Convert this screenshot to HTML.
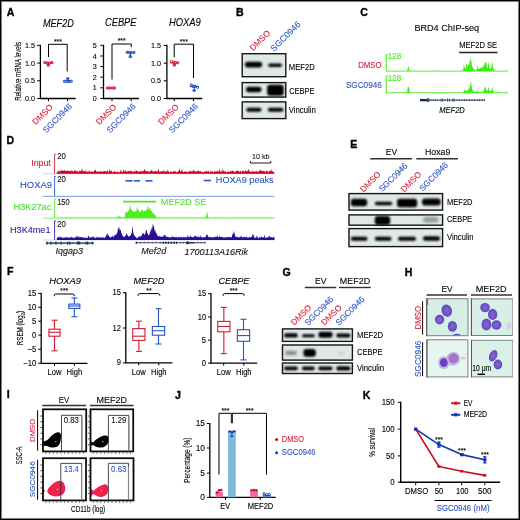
<!DOCTYPE html>
<html><head><meta charset="utf-8"><style>
html,body{margin:0;padding:0;background:#fff;}
svg{display:block;font-family:"Liberation Sans", sans-serif;}
</style></head><body>
<svg width="520" height="520" viewBox="0 0 520 520">
<rect x="0" y="0" width="520" height="520" fill="#fff"/>
<defs><filter id="soft" x="0" y="0" width="100%" height="100%"><feGaussianBlur stdDeviation="0.3"/></filter></defs>
<g filter="url(#soft)">
<text x="6.7" y="16.0" font-size="10.6" font-weight="bold" fill="#000" stroke="#000" stroke-width="0.35">A</text>
<text x="235.89999999999998" y="16.0" font-size="10.6" font-weight="bold" fill="#000" stroke="#000" stroke-width="0.35">B</text>
<text x="360.3" y="16.4" font-size="10.6" font-weight="bold" fill="#000" stroke="#000" stroke-width="0.35">C</text>
<text x="6.6000000000000005" y="143.7" font-size="10.6" font-weight="bold" fill="#000" stroke="#000" stroke-width="0.35">D</text>
<text x="350.3" y="147.89999999999998" font-size="10.6" font-weight="bold" fill="#000" stroke="#000" stroke-width="0.35">E</text>
<text x="7.0" y="275.4" font-size="10.6" font-weight="bold" fill="#000" stroke="#000" stroke-width="0.35">F</text>
<text x="282.4" y="275.59999999999997" font-size="10.6" font-weight="bold" fill="#000" stroke="#000" stroke-width="0.35">G</text>
<text x="404.7" y="275.9" font-size="10.6" font-weight="bold" fill="#000" stroke="#000" stroke-width="0.35">H</text>
<text x="6.7" y="398.2" font-size="10.6" font-weight="bold" fill="#000" stroke="#000" stroke-width="0.35">I</text>
<text x="174.89999999999998" y="398.7" font-size="10.6" font-weight="bold" fill="#000" stroke="#000" stroke-width="0.35">J</text>
<text x="362.8" y="399.0" font-size="10.6" font-weight="bold" fill="#000" stroke="#000" stroke-width="0.35">K</text>
<line x1="40.4" y1="44.8" x2="40.4" y2="99.0" stroke="#000" stroke-width="1.3"/>
<line x1="39.9" y1="98.5" x2="75.7" y2="98.5" stroke="#000" stroke-width="1.3"/>
<line x1="37.199999999999996" y1="45.4" x2="40.4" y2="45.4" stroke="#000" stroke-width="1"/>
<text x="35.1" y="48.0" transform="translate(35.1,48.0) scale(1,1.12) translate(-35.1,-48.0)" font-size="7.2" fill="#000" stroke="#000" stroke-width="0.1" text-anchor="end" font-weight="normal" font-style="normal" >1.5</text>
<line x1="37.199999999999996" y1="63.1" x2="40.4" y2="63.1" stroke="#000" stroke-width="1"/>
<text x="35.1" y="65.7" transform="translate(35.1,65.7) scale(1,1.12) translate(-35.1,-65.7)" font-size="7.2" fill="#000" stroke="#000" stroke-width="0.1" text-anchor="end" font-weight="normal" font-style="normal" >1.0</text>
<line x1="37.199999999999996" y1="80.8" x2="40.4" y2="80.8" stroke="#000" stroke-width="1"/>
<text x="35.1" y="83.39999999999999" transform="translate(35.1,83.39999999999999) scale(1,1.12) translate(-35.1,-83.39999999999999)" font-size="7.2" fill="#000" stroke="#000" stroke-width="0.1" text-anchor="end" font-weight="normal" font-style="normal" >0.5</text>
<line x1="37.199999999999996" y1="98.5" x2="40.4" y2="98.5" stroke="#000" stroke-width="1"/>
<text x="35.1" y="101.1" transform="translate(35.1,101.1) scale(1,1.12) translate(-35.1,-101.1)" font-size="7.2" fill="#000" stroke="#000" stroke-width="0.1" text-anchor="end" font-weight="normal" font-style="normal" >0.0</text>
<line x1="48.5" y1="98.5" x2="48.5" y2="101.3" stroke="#000" stroke-width="1"/>
<line x1="67.5" y1="98.5" x2="67.5" y2="101.3" stroke="#000" stroke-width="1"/>
<text x="43" y="27" transform="translate(43,27) scale(1,1.12) translate(-43,-27)" font-size="9.0" fill="#000" stroke="#000" stroke-width="0.1" text-anchor="start" font-weight="normal" font-style="italic" textLength="30.8" lengthAdjust="spacingAndGlyphs" >MEF2D</text>
<path d="M48.5,57 V44.3 H67.2 V71.5" stroke="#000" stroke-width="1" fill="none" />
<text x="57.85" y="43.699999999999996" transform="translate(57.85,43.699999999999996) scale(1,1.12) translate(-57.85,-43.699999999999996)" font-size="6.8" fill="#000" stroke="#000" stroke-width="0.1" text-anchor="middle" font-weight="normal" font-style="normal" >***</text>
<line x1="44.3" y1="62.8" x2="52.7" y2="62.8" stroke="#d0021b" stroke-width="1.1"/>
<line x1="48.5" y1="62.8" x2="48.5" y2="65.2" stroke="#d0021b" stroke-width="1.0"/>
<line x1="46.9" y1="65.2" x2="50.1" y2="65.2" stroke="#d0021b" stroke-width="1.0"/>
<circle cx="44.7" cy="62.4" r="1.15" fill="#fff" fill-opacity="0.35" stroke="#d0021b" stroke-width="0.95"/>
<circle cx="47.1" cy="63.0" r="1.15" fill="#fff" fill-opacity="0.35" stroke="#d0021b" stroke-width="0.95"/>
<circle cx="49.5" cy="63.0" r="1.15" fill="#fff" fill-opacity="0.35" stroke="#d0021b" stroke-width="0.95"/>
<circle cx="52.0" cy="62.599999999999994" r="1.15" fill="#fff" fill-opacity="0.35" stroke="#d0021b" stroke-width="0.95"/>
<circle cx="48.3" cy="65.2" r="1.15" fill="#fff" fill-opacity="0.35" stroke="#d0021b" stroke-width="0.95"/>
<line x1="63.599999999999994" y1="81.0" x2="72.0" y2="81.0" stroke="#0b3fb8" stroke-width="1.1"/>
<line x1="67.8" y1="81.0" x2="67.8" y2="78.6" stroke="#0b3fb8" stroke-width="1.0"/>
<line x1="66.2" y1="78.6" x2="69.39999999999999" y2="78.6" stroke="#0b3fb8" stroke-width="1.0"/>
<circle cx="64.39999999999999" cy="81.4" r="1.15" fill="#fff" fill-opacity="0.35" stroke="#0b3fb8" stroke-width="0.95"/>
<circle cx="66.6" cy="81.6" r="1.15" fill="#fff" fill-opacity="0.35" stroke="#0b3fb8" stroke-width="0.95"/>
<circle cx="69.0" cy="81.6" r="1.15" fill="#fff" fill-opacity="0.35" stroke="#0b3fb8" stroke-width="0.95"/>
<circle cx="71.3" cy="81.3" r="1.15" fill="#fff" fill-opacity="0.35" stroke="#0b3fb8" stroke-width="0.95"/>
<circle cx="67.7" cy="78.6" r="1.15" fill="#fff" fill-opacity="0.35" stroke="#0b3fb8" stroke-width="0.95"/>
<text transform="translate(53.45,107.6) rotate(-45)" font-size="8.4" fill="#d41f36" stroke="#d41f36" stroke-width="0.1" text-anchor="end" font-style="normal">DMSO</text>
<text transform="translate(72.6,107.0) rotate(-45)" font-size="8.5" fill="#2d55c4" stroke="#2d55c4" stroke-width="0.1" text-anchor="end" font-style="normal">SGC0946</text>
<line x1="103.5" y1="44.8" x2="103.5" y2="99.0" stroke="#000" stroke-width="1.3"/>
<line x1="103.0" y1="98.5" x2="139" y2="98.5" stroke="#000" stroke-width="1.3"/>
<line x1="100.3" y1="45.3" x2="103.5" y2="45.3" stroke="#000" stroke-width="1"/>
<text x="96.7" y="47.9" transform="translate(96.7,47.9) scale(1,1.12) translate(-96.7,-47.9)" font-size="7.2" fill="#000" stroke="#000" stroke-width="0.1" text-anchor="end" font-weight="normal" font-style="normal" >5</text>
<line x1="100.3" y1="56" x2="103.5" y2="56" stroke="#000" stroke-width="1"/>
<text x="96.7" y="58.6" transform="translate(96.7,58.6) scale(1,1.12) translate(-96.7,-58.6)" font-size="7.2" fill="#000" stroke="#000" stroke-width="0.1" text-anchor="end" font-weight="normal" font-style="normal" >4</text>
<line x1="100.3" y1="66.6" x2="103.5" y2="66.6" stroke="#000" stroke-width="1"/>
<text x="96.7" y="69.19999999999999" transform="translate(96.7,69.19999999999999) scale(1,1.12) translate(-96.7,-69.19999999999999)" font-size="7.2" fill="#000" stroke="#000" stroke-width="0.1" text-anchor="end" font-weight="normal" font-style="normal" >3</text>
<line x1="100.3" y1="77.2" x2="103.5" y2="77.2" stroke="#000" stroke-width="1"/>
<text x="96.7" y="79.8" transform="translate(96.7,79.8) scale(1,1.12) translate(-96.7,-79.8)" font-size="7.2" fill="#000" stroke="#000" stroke-width="0.1" text-anchor="end" font-weight="normal" font-style="normal" >2</text>
<line x1="100.3" y1="87.8" x2="103.5" y2="87.8" stroke="#000" stroke-width="1"/>
<text x="96.7" y="90.39999999999999" transform="translate(96.7,90.39999999999999) scale(1,1.12) translate(-96.7,-90.39999999999999)" font-size="7.2" fill="#000" stroke="#000" stroke-width="0.1" text-anchor="end" font-weight="normal" font-style="normal" >1</text>
<line x1="100.3" y1="98.5" x2="103.5" y2="98.5" stroke="#000" stroke-width="1"/>
<text x="96.7" y="101.1" transform="translate(96.7,101.1) scale(1,1.12) translate(-96.7,-101.1)" font-size="7.2" fill="#000" stroke="#000" stroke-width="0.1" text-anchor="end" font-weight="normal" font-style="normal" >0</text>
<line x1="112" y1="98.5" x2="112" y2="101.3" stroke="#000" stroke-width="1"/>
<line x1="131.2" y1="98.5" x2="131.2" y2="101.3" stroke="#000" stroke-width="1"/>
<text x="105" y="26.5" transform="translate(105,26.5) scale(1,1.12) translate(-105,-26.5)" font-size="9.0" fill="#000" stroke="#000" stroke-width="0.1" text-anchor="start" font-weight="normal" font-style="italic" textLength="31.5" lengthAdjust="spacingAndGlyphs" >CEBPE</text>
<path d="M112,79.6 V44.0 H131.2 V47.3" stroke="#000" stroke-width="1" fill="none" />
<text x="121.6" y="43.4" transform="translate(121.6,43.4) scale(1,1.12) translate(-121.6,-43.4)" font-size="6.8" fill="#000" stroke="#000" stroke-width="0.1" text-anchor="middle" font-weight="normal" font-style="normal" >***</text>
<line x1="106.8" y1="88.0" x2="115.2" y2="88.0" stroke="#d0021b" stroke-width="1.1"/>
<circle cx="107.5" cy="88.0" r="1.15" fill="#fff" fill-opacity="0.35" stroke="#d0021b" stroke-width="0.95"/>
<circle cx="110.0" cy="88.0" r="1.15" fill="#fff" fill-opacity="0.35" stroke="#d0021b" stroke-width="0.95"/>
<circle cx="112.7" cy="88.0" r="1.15" fill="#fff" fill-opacity="0.35" stroke="#d0021b" stroke-width="0.95"/>
<circle cx="114.5" cy="88.0" r="1.15" fill="#fff" fill-opacity="0.35" stroke="#d0021b" stroke-width="0.95"/>
<line x1="126.3" y1="52.5" x2="134.7" y2="52.5" stroke="#0b3fb8" stroke-width="1.1"/>
<line x1="130.5" y1="52.5" x2="130.5" y2="57.1" stroke="#0b3fb8" stroke-width="1.0"/>
<line x1="128.9" y1="57.1" x2="132.1" y2="57.1" stroke="#0b3fb8" stroke-width="1.0"/>
<circle cx="127.2" cy="52.3" r="1.15" fill="#fff" fill-opacity="0.35" stroke="#0b3fb8" stroke-width="0.95"/>
<circle cx="129.3" cy="52.5" r="1.15" fill="#fff" fill-opacity="0.35" stroke="#0b3fb8" stroke-width="0.95"/>
<circle cx="131.4" cy="52.5" r="1.15" fill="#fff" fill-opacity="0.35" stroke="#0b3fb8" stroke-width="0.95"/>
<circle cx="133.8" cy="52.5" r="1.15" fill="#fff" fill-opacity="0.35" stroke="#0b3fb8" stroke-width="0.95"/>
<circle cx="130.2" cy="56.5" r="1.15" fill="#fff" fill-opacity="0.35" stroke="#0b3fb8" stroke-width="0.95"/>
<text transform="translate(116.95,107.6) rotate(-45)" font-size="8.4" fill="#d41f36" stroke="#d41f36" stroke-width="0.1" text-anchor="end" font-style="normal">DMSO</text>
<text transform="translate(136.29999999999998,107.0) rotate(-45)" font-size="8.5" fill="#2d55c4" stroke="#2d55c4" stroke-width="0.1" text-anchor="end" font-style="normal">SGC0946</text>
<line x1="166.9" y1="44.8" x2="166.9" y2="99.0" stroke="#000" stroke-width="1.3"/>
<line x1="166.4" y1="98.5" x2="202.3" y2="98.5" stroke="#000" stroke-width="1.3"/>
<line x1="163.70000000000002" y1="45.5" x2="166.9" y2="45.5" stroke="#000" stroke-width="1"/>
<text x="160.9" y="48.1" transform="translate(160.9,48.1) scale(1,1.12) translate(-160.9,-48.1)" font-size="7.2" fill="#000" stroke="#000" stroke-width="0.1" text-anchor="end" font-weight="normal" font-style="normal" >1.5</text>
<line x1="163.70000000000002" y1="63.2" x2="166.9" y2="63.2" stroke="#000" stroke-width="1"/>
<text x="160.9" y="65.8" transform="translate(160.9,65.8) scale(1,1.12) translate(-160.9,-65.8)" font-size="7.2" fill="#000" stroke="#000" stroke-width="0.1" text-anchor="end" font-weight="normal" font-style="normal" >1.0</text>
<line x1="163.70000000000002" y1="80.8" x2="166.9" y2="80.8" stroke="#000" stroke-width="1"/>
<text x="160.9" y="83.39999999999999" transform="translate(160.9,83.39999999999999) scale(1,1.12) translate(-160.9,-83.39999999999999)" font-size="7.2" fill="#000" stroke="#000" stroke-width="0.1" text-anchor="end" font-weight="normal" font-style="normal" >0.5</text>
<line x1="163.70000000000002" y1="98.5" x2="166.9" y2="98.5" stroke="#000" stroke-width="1"/>
<text x="160.9" y="101.1" transform="translate(160.9,101.1) scale(1,1.12) translate(-160.9,-101.1)" font-size="7.2" fill="#000" stroke="#000" stroke-width="0.1" text-anchor="end" font-weight="normal" font-style="normal" >0.0</text>
<line x1="174.3" y1="98.5" x2="174.3" y2="101.3" stroke="#000" stroke-width="1"/>
<line x1="193.5" y1="98.5" x2="193.5" y2="101.3" stroke="#000" stroke-width="1"/>
<text x="168.9" y="26" transform="translate(168.9,26) scale(1,1.12) translate(-168.9,-26)" font-size="9.0" fill="#000" stroke="#000" stroke-width="0.1" text-anchor="start" font-weight="normal" font-style="italic" textLength="31.9" lengthAdjust="spacingAndGlyphs" >HOXA9</text>
<path d="M174.2,57.3 V44.2 H193.5 V78" stroke="#000" stroke-width="1" fill="none" />
<text x="183.85" y="43.6" transform="translate(183.85,43.6) scale(1,1.12) translate(-183.85,-43.6)" font-size="6.8" fill="#000" stroke="#000" stroke-width="0.1" text-anchor="middle" font-weight="normal" font-style="normal" >***</text>
<line x1="170.20000000000002" y1="62.8" x2="178.6" y2="62.8" stroke="#d0021b" stroke-width="1.1"/>
<line x1="174.4" y1="62.8" x2="174.4" y2="65.1" stroke="#d0021b" stroke-width="1.0"/>
<line x1="172.8" y1="65.1" x2="176.0" y2="65.1" stroke="#d0021b" stroke-width="1.0"/>
<circle cx="171.5" cy="61.5" r="1.15" fill="#fff" fill-opacity="0.35" stroke="#d0021b" stroke-width="0.95"/>
<circle cx="173.70000000000002" cy="62.599999999999994" r="1.15" fill="#fff" fill-opacity="0.35" stroke="#d0021b" stroke-width="0.95"/>
<circle cx="175.5" cy="62.599999999999994" r="1.15" fill="#fff" fill-opacity="0.35" stroke="#d0021b" stroke-width="0.95"/>
<circle cx="177.70000000000002" cy="62.9" r="1.15" fill="#fff" fill-opacity="0.35" stroke="#d0021b" stroke-width="0.95"/>
<circle cx="174.4" cy="65.1" r="1.15" fill="#fff" fill-opacity="0.35" stroke="#d0021b" stroke-width="0.95"/>
<line x1="190.10000000000002" y1="86.6" x2="198.5" y2="86.6" stroke="#0b3fb8" stroke-width="1.1"/>
<line x1="194.3" y1="86.6" x2="194.3" y2="90.69999999999999" stroke="#0b3fb8" stroke-width="1.0"/>
<line x1="192.70000000000002" y1="90.69999999999999" x2="195.9" y2="90.69999999999999" stroke="#0b3fb8" stroke-width="1.0"/>
<circle cx="191.20000000000002" cy="85.19999999999999" r="1.15" fill="#fff" fill-opacity="0.35" stroke="#0b3fb8" stroke-width="0.95"/>
<circle cx="193.0" cy="86.3" r="1.15" fill="#fff" fill-opacity="0.35" stroke="#0b3fb8" stroke-width="0.95"/>
<circle cx="195.0" cy="86.3" r="1.15" fill="#fff" fill-opacity="0.35" stroke="#0b3fb8" stroke-width="0.95"/>
<circle cx="197.5" cy="87.3" r="1.15" fill="#fff" fill-opacity="0.35" stroke="#0b3fb8" stroke-width="0.95"/>
<circle cx="194.10000000000002" cy="90.39999999999999" r="1.15" fill="#fff" fill-opacity="0.35" stroke="#0b3fb8" stroke-width="0.95"/>
<text transform="translate(179.25,107.6) rotate(-45)" font-size="8.4" fill="#d41f36" stroke="#d41f36" stroke-width="0.1" text-anchor="end" font-style="normal">DMSO</text>
<text transform="translate(198.6,107.0) rotate(-45)" font-size="8.5" fill="#2d55c4" stroke="#2d55c4" stroke-width="0.1" text-anchor="end" font-style="normal">SGC0946</text>
<text transform="translate(20.6,71.3) rotate(-90)" font-size="9.2" text-anchor="middle" stroke="#000" stroke-width="0.12" textLength="58.8" lengthAdjust="spacingAndGlyphs">Relative mRNA levels</text>
<defs>
<filter id="bl" x="-20%" y="-50%" width="140%" height="200%"><feGaussianBlur stdDeviation="0.9"/></filter>
<filter id="bl2" x="-20%" y="-50%" width="140%" height="200%"><feGaussianBlur stdDeviation="1.4"/></filter>
<filter id="bl3" x="-30%" y="-30%" width="160%" height="160%"><feGaussianBlur stdDeviation="0.6"/></filter>
<radialGradient id="cellg" cx="0.5" cy="0.5" r="0.5"><stop offset="0" stop-color="#9462c4"/><stop offset="0.55" stop-color="#7a56c2"/><stop offset="0.85" stop-color="#5a4ec6"/><stop offset="1" stop-color="#5660cc"/></radialGradient>
<radialGradient id="cellp" cx="0.5" cy="0.5" r="0.5"><stop offset="0" stop-color="#b272c8"/><stop offset="0.8" stop-color="#a872c8"/><stop offset="1" stop-color="#9a88d4"/></radialGradient>
<radialGradient id="celld" cx="0.5" cy="0.5" r="0.5"><stop offset="0" stop-color="#7a3cbc"/><stop offset="0.8" stop-color="#6a3cb8"/><stop offset="1" stop-color="#7a6ad0"/></radialGradient>
</defs>
<text transform="translate(270.75,33.6) rotate(-45)" font-size="8.4" fill="#d41f36" stroke="#d41f36" stroke-width="0.1" text-anchor="end" font-style="normal">DMSO</text>
<text transform="translate(301.1,24.9) rotate(-45)" font-size="8.7" fill="#2d55c4" stroke="#2d55c4" stroke-width="0.1" text-anchor="end" font-style="normal">SGC0946</text>
<rect x="242.2" y="53.7" width="43.6" height="23.000000000000007" fill="#dfe8e6" stroke="#141414" stroke-width="1.4" />
<rect x="244.9" y="61.8" width="17.299999999999983" height="5.6" rx="2.8" fill="#000" filter="url(#bl)"/>
<rect x="268.2" y="63.400000000000006" width="13.800000000000011" height="3.6" rx="1.8" fill="#000" filter="url(#bl)"/>
<rect x="242.2" y="82.60000000000001" width="43.6" height="14.499999999999991" fill="#dfe8e6" stroke="#141414" stroke-width="1.4" />
<rect x="246.0" y="86.7" width="15.5" height="5.6" rx="2.8" fill="#000" filter="url(#bl)"/>
<rect x="267.1" y="84.7" width="16.599999999999966" height="11.0" rx="3" fill="#000" filter="url(#bl)"/>
<rect x="242.2" y="101.9" width="43.6" height="16.699999999999996" fill="#dfe8e6" stroke="#141414" stroke-width="1.4" />
<rect x="246.3" y="107.85" width="15.199999999999989" height="3.9" rx="1.95" fill="#000" filter="url(#bl)"/>
<rect x="267.8" y="107.8" width="15.599999999999966" height="4.0" rx="2.0" fill="#000" filter="url(#bl)"/>
<text x="288.8" y="69.6" transform="translate(288.8,69.6) scale(1,1.12) translate(-288.8,-69.6)" font-size="7.6" fill="#000" stroke="#000" stroke-width="0.1" text-anchor="start" font-weight="normal" font-style="normal" textLength="26" lengthAdjust="spacingAndGlyphs" >MEF2D</text>
<text x="289.2" y="93.8" transform="translate(289.2,93.8) scale(1,1.12) translate(-289.2,-93.8)" font-size="7.6" fill="#000" stroke="#000" stroke-width="0.1" text-anchor="start" font-weight="normal" font-style="normal" textLength="25.4" lengthAdjust="spacingAndGlyphs" >CEBPE</text>
<text x="288.8" y="113.5" transform="translate(288.8,113.5) scale(1,1.12) translate(-288.8,-113.5)" font-size="7.6" fill="#000" stroke="#000" stroke-width="0.1" text-anchor="start" font-weight="normal" font-style="normal" textLength="27" lengthAdjust="spacingAndGlyphs" >Vinculin</text>
<text x="414.4" y="30.6" transform="translate(414.4,30.6) scale(1,1.12) translate(-414.4,-30.6)" font-size="8.8" fill="#000" stroke="#000" stroke-width="0.1" text-anchor="start" font-weight="normal" font-style="normal" textLength="64.8" lengthAdjust="spacingAndGlyphs" >BRD4 ChIP-seq</text>
<text x="459.2" y="48.5" transform="translate(459.2,48.5) scale(1,1.12) translate(-459.2,-48.5)" font-size="7.6" fill="#000" stroke="#000" stroke-width="0.1" text-anchor="start" font-weight="normal" font-style="normal" textLength="37.9" lengthAdjust="spacingAndGlyphs" >MEF2D SE</text>
<line x1="459.2" y1="52.5" x2="497.5" y2="52.5" stroke="#222" stroke-width="1.3"/>
<text x="358.2" y="67.9" transform="translate(358.2,67.9) scale(1,1.12) translate(-358.2,-67.9)" font-size="8.6" fill="#d41f36" stroke="#d41f36" stroke-width="0.1" text-anchor="start" font-weight="normal" font-style="normal" textLength="23.3" lengthAdjust="spacingAndGlyphs" >DMSO</text>
<text x="345.9" y="88.3" transform="translate(345.9,88.3) scale(1,1.12) translate(-345.9,-88.3)" font-size="8.4" fill="#2d55c4" stroke="#2d55c4" stroke-width="0.1" text-anchor="start" font-weight="normal" font-style="normal" textLength="35.9" lengthAdjust="spacingAndGlyphs" >SGC0946</text>
<line x1="386.3" y1="54.0" x2="386.3" y2="71.6" stroke="#3fee14" stroke-width="1"/>
<line x1="386.3" y1="54.4" x2="387.8" y2="54.4" stroke="#3fee14" stroke-width="0.8"/>
<text x="387.8" y="58.9" transform="translate(387.8,58.9) scale(1,1.12) translate(-387.8,-58.9)" font-size="7.8" fill="#3fee14" stroke="#3fee14" stroke-width="0.1" text-anchor="start" font-weight="normal" font-style="normal" textLength="13.5" lengthAdjust="spacingAndGlyphs" >128</text>
<line x1="386.3" y1="75.8" x2="386.3" y2="93.3" stroke="#3fee14" stroke-width="1"/>
<line x1="386.3" y1="76.2" x2="387.8" y2="76.2" stroke="#3fee14" stroke-width="0.8"/>
<text x="387.8" y="80.7" transform="translate(387.8,80.7) scale(1,1.12) translate(-387.8,-80.7)" font-size="7.8" fill="#3fee14" stroke="#3fee14" stroke-width="0.1" text-anchor="start" font-weight="normal" font-style="normal" textLength="13.5" lengthAdjust="spacingAndGlyphs" >128</text>
<path d="M386.8,71.6 L386.80,70.67 L387.15,70.44 L387.50,70.65 L387.85,70.81 L388.20,70.59 L388.55,70.85 L388.90,70.85 L389.25,70.55 L389.60,70.41 L389.95,70.57 L390.30,70.50 L390.65,70.87 L391.00,70.78 L391.35,70.67 L391.70,70.48 L392.05,70.58 L392.40,70.57 L392.75,70.76 L393.10,70.40 L393.45,70.55 L393.80,70.79 L394.15,70.86 L394.50,70.70 L394.85,70.71 L395.20,70.35 L395.55,70.44 L395.90,70.41 L396.25,70.86 L396.60,70.51 L396.95,70.86 L397.30,70.42 L397.65,70.84 L398.00,70.85 L398.35,70.50 L398.70,70.62 L399.05,70.80 L399.40,70.83 L399.75,70.84 L400.10,70.79 L400.45,70.41 L400.80,70.75 L401.15,70.79 L401.50,70.47 L401.85,70.85 L402.20,70.79 L402.55,70.51 L402.90,70.75 L403.25,70.85 L403.60,70.78 L403.95,70.71 L404.30,70.42 L404.65,70.61 L405.00,70.81 L405.35,70.45 L405.70,70.78 L406.05,70.53 L406.40,70.80 L406.75,70.46 L407.10,70.69 L407.45,69.44 L407.80,68.18 L408.15,66.52 L408.50,66.12 L408.85,67.92 L409.20,69.46 L409.55,70.38 L409.90,70.81 L410.25,70.83 L410.60,70.45 L410.95,70.57 L411.30,70.61 L411.65,70.34 L412.00,70.55 L412.35,70.89 L412.70,70.66 L413.05,70.74 L413.40,70.86 L413.75,70.53 L414.10,70.53 L414.45,70.50 L414.80,70.72 L415.15,70.45 L415.50,70.69 L415.85,70.47 L416.20,70.59 L416.55,70.61 L416.90,70.86 L417.25,70.40 L417.60,70.54 L417.95,70.53 L418.30,70.68 L418.65,70.86 L419.00,70.89 L419.35,70.66 L419.70,70.55 L420.05,70.59 L420.40,70.59 L420.75,70.56 L421.10,70.82 L421.45,70.57 L421.80,70.45 L422.15,70.57 L422.50,70.68 L422.85,70.44 L423.20,70.71 L423.55,70.74 L423.90,70.65 L424.25,70.48 L424.60,70.42 L424.95,70.82 L425.30,70.76 L425.65,70.69 L426.00,70.65 L426.35,70.48 L426.70,70.67 L427.05,70.88 L427.40,70.88 L427.75,70.61 L428.10,70.42 L428.45,70.17 L428.80,70.78 L429.15,70.88 L429.50,70.68 L429.85,70.57 L430.20,70.42 L430.55,70.80 L430.90,70.53 L431.25,70.54 L431.60,70.76 L431.95,70.55 L432.30,70.59 L432.65,70.70 L433.00,70.45 L433.35,70.43 L433.70,70.84 L434.05,70.59 L434.40,70.71 L434.75,70.46 L435.10,70.43 L435.45,70.57 L435.80,70.54 L436.15,70.58 L436.50,70.79 L436.85,70.41 L437.20,70.63 L437.55,70.74 L437.90,70.47 L438.25,70.86 L438.60,70.62 L438.95,70.17 L439.30,70.87 L439.65,70.81 L440.00,70.51 L440.35,70.83 L440.70,70.54 L441.05,70.56 L441.40,70.65 L441.75,70.86 L442.10,70.64 L442.45,70.54 L442.80,70.64 L443.15,70.62 L443.50,70.71 L443.85,70.45 L444.20,70.47 L444.55,70.64 L444.90,70.80 L445.25,70.65 L445.60,70.89 L445.95,70.64 L446.30,70.50 L446.65,70.65 L447.00,70.87 L447.35,70.69 L447.70,70.44 L448.05,70.66 L448.40,70.68 L448.75,70.45 L449.10,70.74 L449.45,70.44 L449.80,70.50 L450.15,70.56 L450.50,70.59 L450.85,70.84 L451.20,70.80 L451.55,70.71 L451.90,70.82 L452.25,70.58 L452.60,70.59 L452.95,70.53 L453.30,70.74 L453.65,70.79 L454.00,70.83 L454.35,70.77 L454.70,70.69 L455.05,70.70 L455.40,70.80 L455.75,70.42 L456.10,70.52 L456.45,70.81 L456.80,70.88 L457.15,70.62 L457.50,70.80 L457.85,70.44 L458.20,70.42 L458.55,70.74 L458.90,70.68 L459.25,70.55 L459.60,70.67 L459.95,70.71 L460.30,70.59 L460.65,70.55 L461.00,70.61 L461.35,70.41 L461.70,70.44 L462.05,70.38 L462.40,70.39 L462.75,70.37 L463.10,70.42 L463.45,67.66 L463.80,63.21 L464.15,65.40 L464.50,67.32 L464.85,67.62 L465.20,68.69 L465.55,68.10 L465.90,66.95 L466.25,65.45 L466.60,64.11 L466.95,64.34 L467.30,66.64 L467.65,66.14 L468.00,64.98 L468.35,64.55 L468.70,64.81 L469.05,64.20 L469.40,62.73 L469.75,61.74 L470.10,60.64 L470.45,56.95 L470.80,58.74 L471.15,60.67 L471.50,62.01 L471.85,64.88 L472.20,66.59 L472.55,67.02 L472.90,67.81 L473.25,68.34 L473.60,68.75 L473.95,69.12 L474.30,69.45 L474.65,69.64 L475.00,69.88 L475.35,70.41 L475.70,70.22 L476.05,69.96 L476.40,69.66 L476.75,69.27 L477.10,66.91 L477.45,66.18 L477.80,67.54 L478.15,68.73 L478.50,68.80 L478.85,69.08 L479.20,68.65 L479.55,68.82 L479.90,68.59 L480.25,68.36 L480.60,67.43 L480.95,68.09 L481.30,67.89 L481.65,66.96 L482.00,67.63 L482.35,67.49 L482.70,66.47 L483.05,66.81 L483.40,67.04 L483.75,65.18 L484.10,65.32 L484.45,64.76 L484.80,61.68 L485.15,62.34 L485.50,62.61 L485.85,61.85 L486.20,62.84 L486.55,64.00 L486.90,66.50 L487.25,68.20 L487.60,67.69 L487.95,67.35 L488.30,63.55 L488.65,60.33 L489.00,65.19 L489.35,67.07 L489.70,68.82 L490.05,69.00 L490.40,68.56 L490.75,68.63 L491.10,68.34 L491.45,67.17 L491.80,65.06 L492.15,62.48 L492.50,61.97 L492.85,65.25 L493.20,67.96 L493.55,69.15 L493.90,69.89 L494.25,69.81 L494.60,70.50 L494.95,70.76 L495.30,70.60 L495.65,70.76 L496.00,70.52 L496.35,70.63 L496.70,70.66 L497.05,70.46 L497.40,70.73 L497.75,70.42 L498.10,70.79 L498.45,70.43 L498.80,70.71 L499.15,70.64 L499.50,70.40 L499.85,70.50 L500.20,70.71 L500.55,70.54 L500.90,70.82 L501.25,70.74 L501.60,70.47 L501.95,70.58 L502.30,70.77 L502.65,70.82 L503.00,70.90 L503.35,70.48 L503.70,70.86 L504.05,70.54 L504.40,70.66 L504.75,70.42 L505.10,70.47 L505.45,70.51 L505.80,70.44 L506.15,70.49 L506.50,70.63 L506.85,70.82 L507.20,70.74 L507.55,70.86 L507.90,70.67 L508,71.6 Z" fill="#3fee14" stroke="none"/>
<path d="M386.8,93.3 L386.80,92.36 L387.15,92.27 L387.50,92.59 L387.85,92.46 L388.20,92.25 L388.55,92.32 L388.90,92.53 L389.25,92.52 L389.60,92.57 L389.95,92.56 L390.30,92.43 L390.65,92.14 L391.00,92.14 L391.35,92.55 L391.70,92.13 L392.05,92.39 L392.40,92.44 L392.75,92.52 L393.10,92.57 L393.45,92.19 L393.80,92.39 L394.15,92.36 L394.50,92.58 L394.85,92.12 L395.20,92.27 L395.55,92.42 L395.90,92.26 L396.25,92.48 L396.60,92.34 L396.95,91.86 L397.30,92.38 L397.65,92.49 L398.00,92.41 L398.35,92.55 L398.70,92.51 L399.05,92.58 L399.40,92.43 L399.75,92.57 L400.10,92.50 L400.45,92.36 L400.80,92.36 L401.15,92.52 L401.50,92.42 L401.85,92.23 L402.20,92.60 L402.55,92.21 L402.90,92.46 L403.25,92.29 L403.60,92.10 L403.95,92.59 L404.30,92.21 L404.65,92.28 L405.00,92.34 L405.35,92.29 L405.70,92.13 L406.05,92.52 L406.40,92.16 L406.75,92.13 L407.10,91.93 L407.45,89.71 L407.80,86.38 L408.15,87.22 L408.50,86.87 L408.85,86.62 L409.20,88.51 L409.55,91.15 L409.90,92.42 L410.25,92.59 L410.60,92.15 L410.95,92.15 L411.30,92.33 L411.65,92.41 L412.00,92.42 L412.35,92.13 L412.70,92.33 L413.05,92.54 L413.40,92.25 L413.75,92.48 L414.10,92.44 L414.45,92.53 L414.80,92.44 L415.15,92.22 L415.50,92.13 L415.85,92.59 L416.20,92.38 L416.55,92.43 L416.90,91.91 L417.25,92.50 L417.60,92.14 L417.95,92.52 L418.30,92.18 L418.65,92.17 L419.00,92.33 L419.35,92.06 L419.70,92.18 L420.05,92.23 L420.40,92.42 L420.75,92.49 L421.10,92.47 L421.45,92.20 L421.80,92.13 L422.15,92.41 L422.50,92.15 L422.85,92.54 L423.20,92.18 L423.55,92.21 L423.90,92.29 L424.25,92.40 L424.60,92.41 L424.95,92.20 L425.30,92.50 L425.65,92.11 L426.00,92.57 L426.35,92.16 L426.70,92.42 L427.05,92.45 L427.40,92.17 L427.75,92.49 L428.10,92.59 L428.45,92.59 L428.80,92.52 L429.15,92.45 L429.50,92.51 L429.85,92.17 L430.20,92.55 L430.55,92.33 L430.90,92.34 L431.25,92.20 L431.60,92.28 L431.95,92.28 L432.30,92.39 L432.65,92.24 L433.00,92.14 L433.35,92.17 L433.70,92.12 L434.05,92.39 L434.40,92.30 L434.75,92.18 L435.10,92.57 L435.45,92.56 L435.80,92.60 L436.15,92.54 L436.50,92.29 L436.85,92.12 L437.20,91.99 L437.55,92.14 L437.90,92.50 L438.25,92.39 L438.60,92.44 L438.95,92.56 L439.30,92.12 L439.65,92.22 L440.00,92.42 L440.35,92.14 L440.70,92.13 L441.05,92.36 L441.40,92.19 L441.75,92.43 L442.10,92.17 L442.45,92.36 L442.80,92.29 L443.15,92.42 L443.50,92.41 L443.85,92.54 L444.20,92.12 L444.55,92.47 L444.90,92.55 L445.25,92.28 L445.60,92.33 L445.95,92.31 L446.30,92.45 L446.65,92.10 L447.00,92.35 L447.35,92.51 L447.70,92.50 L448.05,92.42 L448.40,92.13 L448.75,92.43 L449.10,92.40 L449.45,92.56 L449.80,92.27 L450.15,92.26 L450.50,92.46 L450.85,92.50 L451.20,92.28 L451.55,92.36 L451.90,92.37 L452.25,92.40 L452.60,92.42 L452.95,92.22 L453.30,92.34 L453.65,92.35 L454.00,92.29 L454.35,92.42 L454.70,92.59 L455.05,92.21 L455.40,92.12 L455.75,92.52 L456.10,92.39 L456.45,92.47 L456.80,92.57 L457.15,92.54 L457.50,92.52 L457.85,92.18 L458.20,92.35 L458.55,92.13 L458.90,92.49 L459.25,92.15 L459.60,92.34 L459.95,92.51 L460.30,92.22 L460.65,92.20 L461.00,92.33 L461.35,92.29 L461.70,92.18 L462.05,92.59 L462.40,92.40 L462.75,92.34 L463.10,92.15 L463.45,91.93 L463.80,90.48 L464.15,89.29 L464.50,89.33 L464.85,90.51 L465.20,91.08 L465.55,91.07 L465.90,90.88 L466.25,89.98 L466.60,90.11 L466.95,90.78 L467.30,90.88 L467.65,90.21 L468.00,89.79 L468.35,89.13 L468.70,88.61 L469.05,88.70 L469.40,88.70 L469.75,86.62 L470.10,85.74 L470.45,83.69 L470.80,81.90 L471.15,81.82 L471.50,85.86 L471.85,87.09 L472.20,88.81 L472.55,89.70 L472.90,90.77 L473.25,91.61 L473.60,91.63 L473.95,91.77 L474.30,91.79 L474.65,91.84 L475.00,91.96 L475.35,92.10 L475.70,91.96 L476.05,91.98 L476.40,92.12 L476.75,91.20 L477.10,90.25 L477.45,89.80 L477.80,91.18 L478.15,91.64 L478.50,91.65 L478.85,91.84 L479.20,91.90 L479.55,92.02 L479.90,91.81 L480.25,92.11 L480.60,91.86 L480.95,92.20 L481.30,92.17 L481.65,92.19 L482.00,92.28 L482.35,91.93 L482.70,91.38 L483.05,91.58 L483.40,90.89 L483.75,90.50 L484.10,89.50 L484.45,86.97 L484.80,87.82 L485.15,86.69 L485.50,87.66 L485.85,87.76 L486.20,89.23 L486.55,90.11 L486.90,91.08 L487.25,90.93 L487.60,90.85 L487.95,88.66 L488.30,87.70 L488.65,86.43 L489.00,89.26 L489.35,90.54 L489.70,91.05 L490.05,91.27 L490.40,91.04 L490.75,91.32 L491.10,91.28 L491.45,90.45 L491.80,88.65 L492.15,87.25 L492.50,87.25 L492.85,90.01 L493.20,91.02 L493.55,91.33 L493.90,92.01 L494.25,92.42 L494.60,92.51 L494.95,92.51 L495.30,92.54 L495.65,92.36 L496.00,92.23 L496.35,92.25 L496.70,92.52 L497.05,92.39 L497.40,92.17 L497.75,92.11 L498.10,92.11 L498.45,92.15 L498.80,92.21 L499.15,92.28 L499.50,92.17 L499.85,92.33 L500.20,92.29 L500.55,92.13 L500.90,92.44 L501.25,92.48 L501.60,92.34 L501.95,92.56 L502.30,92.51 L502.65,92.51 L503.00,92.16 L503.35,92.49 L503.70,92.39 L504.05,92.51 L504.40,92.43 L504.75,92.35 L505.10,92.14 L505.45,92.59 L505.80,92.55 L506.15,92.21 L506.50,92.24 L506.85,92.37 L507.20,92.37 L507.55,91.87 L507.90,92.25 L508,93.3 Z" fill="#3fee14" stroke="none"/>
<line x1="420" y1="100.1" x2="485" y2="100.1" stroke="#1b2a55" stroke-width="0.9"/>
<rect x="420" y="98.9" width="7.2" height="2.4" fill="#1b2a55" stroke="none" stroke-width="0" />
<rect x="427" y="98.3" width="2.4" height="3.6" fill="#2a4a7a" stroke="none" stroke-width="0" />
<rect x="440.55" y="98.5" width="0.9" height="3.2" fill="#2a4a7a" stroke="none" stroke-width="0" />
<rect x="442.25" y="98.5" width="0.9" height="3.2" fill="#2a4a7a" stroke="none" stroke-width="0" />
<rect x="447.05" y="98.5" width="0.9" height="3.2" fill="#2a4a7a" stroke="none" stroke-width="0" />
<rect x="449.15000000000003" y="98.5" width="0.9" height="3.2" fill="#2a4a7a" stroke="none" stroke-width="0" />
<rect x="452.35" y="98.5" width="0.9" height="3.2" fill="#2a4a7a" stroke="none" stroke-width="0" />
<rect x="453.75" y="98.5" width="0.9" height="3.2" fill="#2a4a7a" stroke="none" stroke-width="0" />
<rect x="430.6" y="99.3" width="0.8" height="1.6" fill="#1b2a55" stroke="none" stroke-width="0" />
<rect x="432.90000000000003" y="99.3" width="0.8" height="1.6" fill="#1b2a55" stroke="none" stroke-width="0" />
<rect x="435.20000000000005" y="99.3" width="0.8" height="1.6" fill="#1b2a55" stroke="none" stroke-width="0" />
<rect x="437.6" y="99.3" width="0.8" height="1.6" fill="#1b2a55" stroke="none" stroke-width="0" />
<rect x="444.6" y="99.3" width="0.8" height="1.6" fill="#1b2a55" stroke="none" stroke-width="0" />
<rect x="456.6" y="99.3" width="0.8" height="1.6" fill="#1b2a55" stroke="none" stroke-width="0" />
<rect x="459.1" y="99.3" width="0.8" height="1.6" fill="#1b2a55" stroke="none" stroke-width="0" />
<rect x="461.6" y="99.3" width="0.8" height="1.6" fill="#1b2a55" stroke="none" stroke-width="0" />
<rect x="464.1" y="99.3" width="0.8" height="1.6" fill="#1b2a55" stroke="none" stroke-width="0" />
<rect x="466.6" y="99.3" width="0.8" height="1.6" fill="#1b2a55" stroke="none" stroke-width="0" />
<rect x="469.1" y="99.3" width="0.8" height="1.6" fill="#1b2a55" stroke="none" stroke-width="0" />
<rect x="471.6" y="99.3" width="0.8" height="1.6" fill="#1b2a55" stroke="none" stroke-width="0" />
<rect x="474.1" y="99.3" width="0.8" height="1.6" fill="#1b2a55" stroke="none" stroke-width="0" />
<rect x="476.6" y="99.3" width="0.8" height="1.6" fill="#1b2a55" stroke="none" stroke-width="0" />
<rect x="479.1" y="99.3" width="0.8" height="1.6" fill="#1b2a55" stroke="none" stroke-width="0" />
<rect x="481.6" y="99.3" width="0.8" height="1.6" fill="#1b2a55" stroke="none" stroke-width="0" />
<rect x="484.1" y="99.3" width="0.8" height="1.6" fill="#1b2a55" stroke="none" stroke-width="0" />
<text x="439.2" y="113.4" transform="translate(439.2,113.4) scale(1,1.12) translate(-439.2,-113.4)" font-size="8.0" fill="#000" stroke="#000" stroke-width="0.1" text-anchor="start" font-weight="normal" font-style="italic" textLength="25.6" lengthAdjust="spacingAndGlyphs" >MEF2D</text>
<text x="31.2" y="165.8" transform="translate(31.2,165.8) scale(1,1.12) translate(-31.2,-165.8)" font-size="8.8" fill="#d41f36" stroke="#d41f36" stroke-width="0.1" text-anchor="start" font-weight="normal" font-style="normal" textLength="19.6" lengthAdjust="spacingAndGlyphs" >Input</text>
<text x="20.0" y="188.4" transform="translate(20.0,188.4) scale(1,1.12) translate(-20.0,-188.4)" font-size="8.8" fill="#2a4fc4" stroke="#2a4fc4" stroke-width="0.1" text-anchor="start" font-weight="normal" font-style="normal" textLength="32" lengthAdjust="spacingAndGlyphs" >HOXA9</text>
<text x="13.5" y="210.5" transform="translate(13.5,210.5) scale(1,1.12) translate(-13.5,-210.5)" font-size="8.8" fill="#46e41e" stroke="#46e41e" stroke-width="0.1" text-anchor="start" font-weight="normal" font-style="normal" textLength="38" lengthAdjust="spacingAndGlyphs" >H3K27ac</text>
<text x="10.0" y="232.8" transform="translate(10.0,232.8) scale(1,1.12) translate(-10.0,-232.8)" font-size="8.8" fill="#3222a4" stroke="#3222a4" stroke-width="0.1" text-anchor="start" font-weight="normal" font-style="normal" textLength="40.5" lengthAdjust="spacingAndGlyphs" >H3K4me1</text>
<line x1="43" y1="173.8" x2="274.5" y2="173.8" stroke="#f3c4c8" stroke-width="0.9"/>
<line x1="54.6" y1="154.0" x2="54.6" y2="173.8" stroke="#d63a48" stroke-width="1"/>
<line x1="54.6" y1="154.4" x2="56.0" y2="154.4" stroke="#d63a48" stroke-width="0.8"/>
<text x="57.2" y="158.7" transform="translate(57.2,158.7) scale(1,1.12) translate(-57.2,-158.7)" font-size="7.5" fill="#111" stroke="#111" stroke-width="0.1" text-anchor="start" font-weight="normal" font-style="normal" textLength="8.7" lengthAdjust="spacingAndGlyphs" >20</text>
<line x1="43" y1="196.3" x2="274.5" y2="196.3" stroke="#6a8fdc" stroke-width="0.9"/>
<line x1="54.6" y1="176.2" x2="54.6" y2="196.3" stroke="#3a66d0" stroke-width="1"/>
<line x1="54.6" y1="176.6" x2="56.0" y2="176.6" stroke="#3a66d0" stroke-width="0.8"/>
<text x="57.2" y="182.3" transform="translate(57.2,182.3) scale(1,1.12) translate(-57.2,-182.3)" font-size="7.5" fill="#111" stroke="#111" stroke-width="0.1" text-anchor="start" font-weight="normal" font-style="normal" textLength="8.7" lengthAdjust="spacingAndGlyphs" >20</text>
<line x1="43" y1="218.2" x2="274.5" y2="218.2" stroke="#7cf055" stroke-width="0.9"/>
<line x1="54.6" y1="198.6" x2="54.6" y2="218.2" stroke="#5de83a" stroke-width="1"/>
<line x1="54.6" y1="199.0" x2="56.0" y2="199.0" stroke="#5de83a" stroke-width="0.8"/>
<text x="57.2" y="204.7" transform="translate(57.2,204.7) scale(1,1.12) translate(-57.2,-204.7)" font-size="7.5" fill="#111" stroke="#111" stroke-width="0.1" text-anchor="start" font-weight="normal" font-style="normal" textLength="12.5" lengthAdjust="spacingAndGlyphs" >150</text>
<line x1="43" y1="240.0" x2="274.5" y2="240.0" stroke="#d4d0ee" stroke-width="0.9"/>
<line x1="54.6" y1="220.6" x2="54.6" y2="240.0" stroke="#4a3ab0" stroke-width="1"/>
<line x1="54.6" y1="221.0" x2="56.0" y2="221.0" stroke="#4a3ab0" stroke-width="0.8"/>
<text x="57.2" y="227.0" transform="translate(57.2,227.0) scale(1,1.12) translate(-57.2,-227.0)" font-size="7.5" fill="#111" stroke="#111" stroke-width="0.1" text-anchor="start" font-weight="normal" font-style="normal" textLength="8.7" lengthAdjust="spacingAndGlyphs" >20</text>
<path d="M56.8,173.8 L56.80,172.15 L57.30,171.17 L57.80,172.05 L58.30,170.80 L58.80,171.44 L59.30,172.49 L59.80,168.89 L60.30,172.01 L60.80,170.41 L61.30,170.22 L61.80,170.72 L62.30,170.86 L62.80,170.33 L63.30,170.88 L63.80,170.87 L64.30,169.99 L64.80,170.32 L65.30,171.18 L65.80,171.14 L66.30,170.56 L66.80,171.03 L67.30,170.41 L67.80,170.48 L68.30,171.03 L68.80,170.93 L69.30,171.33 L69.80,170.84 L70.30,171.70 L70.80,169.84 L71.30,171.71 L71.80,170.61 L72.30,170.42 L72.80,171.26 L73.30,171.47 L73.80,171.98 L74.30,169.74 L74.80,170.87 L75.30,169.97 L75.80,171.89 L76.30,171.13 L76.80,170.61 L77.30,170.93 L77.80,171.97 L78.30,171.40 L78.80,172.44 L79.30,170.74 L79.80,170.65 L80.30,171.61 L80.80,170.72 L81.30,171.38 L81.80,168.83 L82.30,168.72 L82.80,171.15 L83.30,171.27 L83.80,171.65 L84.30,170.31 L84.80,170.96 L85.30,172.20 L85.80,169.51 L86.30,171.82 L86.80,172.04 L87.30,172.11 L87.80,171.01 L88.30,172.40 L88.80,170.66 L89.30,169.45 L89.80,172.37 L90.30,172.13 L90.80,171.97 L91.30,170.67 L91.80,171.85 L92.30,171.88 L92.80,171.35 L93.30,172.29 L93.80,171.43 L94.30,170.47 L94.80,171.03 L95.30,168.88 L95.80,170.45 L96.30,171.83 L96.80,172.05 L97.30,170.79 L97.80,171.56 L98.30,172.46 L98.80,171.57 L99.30,171.68 L99.80,170.72 L100.30,171.98 L100.80,170.78 L101.30,171.54 L101.80,171.69 L102.30,171.17 L102.80,172.32 L103.30,171.47 L103.80,170.63 L104.30,171.18 L104.80,171.10 L105.30,171.03 L105.80,171.98 L106.30,171.69 L106.80,170.77 L107.30,169.48 L107.80,171.85 L108.30,172.19 L108.80,172.33 L109.30,170.52 L109.80,168.66 L110.30,171.02 L110.80,171.80 L111.30,171.07 L111.80,170.50 L112.30,171.97 L112.80,172.18 L113.30,172.08 L113.80,171.92 L114.30,170.52 L114.80,171.58 L115.30,171.91 L115.80,171.69 L116.30,172.10 L116.80,172.43 L117.30,170.54 L117.80,172.46 L118.30,172.42 L118.80,171.03 L119.30,172.48 L119.80,172.30 L120.30,171.55 L120.80,169.35 L121.30,170.77 L121.80,172.40 L122.30,171.65 L122.80,172.03 L123.30,170.73 L123.80,168.90 L124.30,172.33 L124.80,170.93 L125.30,169.66 L125.80,171.23 L126.30,171.51 L126.80,171.79 L127.30,171.76 L127.80,171.18 L128.30,170.82 L128.80,171.08 L129.30,171.82 L129.80,171.46 L130.30,170.82 L130.80,170.55 L131.30,171.64 L131.80,170.97 L132.30,172.34 L132.80,170.99 L133.30,171.38 L133.80,172.13 L134.30,171.46 L134.80,170.71 L135.30,170.60 L135.80,172.04 L136.30,170.60 L136.80,170.59 L137.30,171.68 L137.80,170.53 L138.30,172.48 L138.80,171.21 L139.30,170.91 L139.80,172.16 L140.30,171.37 L140.80,172.07 L141.30,171.33 L141.80,170.95 L142.30,170.52 L142.80,172.13 L143.30,170.79 L143.80,170.96 L144.30,169.28 L144.80,169.27 L145.30,171.40 L145.80,170.70 L146.30,171.61 L146.80,170.88 L147.30,171.13 L147.80,171.60 L148.30,171.47 L148.80,171.37 L149.30,172.43 L149.80,171.27 L150.30,170.95 L150.80,170.41 L151.30,169.68 L151.80,171.28 L152.30,170.40 L152.80,172.02 L153.30,170.79 L153.80,172.38 L154.30,170.76 L154.80,171.53 L155.30,171.18 L155.80,171.04 L156.30,170.92 L156.80,171.97 L157.30,170.83 L157.80,172.08 L158.30,169.71 L158.80,168.68 L159.30,171.94 L159.80,171.88 L160.30,172.07 L160.80,171.00 L161.30,171.06 L161.80,171.14 L162.30,171.92 L162.80,171.04 L163.30,172.24 L163.80,168.95 L164.30,171.25 L164.80,171.45 L165.30,171.71 L165.80,171.16 L166.30,171.77 L166.80,171.16 L167.30,171.42 L167.80,168.91 L168.30,171.54 L168.80,171.27 L169.30,172.32 L169.80,172.15 L170.30,171.81 L170.80,171.49 L171.30,172.18 L171.80,170.72 L172.30,172.27 L172.80,172.26 L173.30,170.90 L173.80,171.03 L174.30,172.32 L174.80,170.63 L175.30,171.29 L175.80,171.41 L176.30,172.48 L176.80,171.83 L177.30,171.75 L177.80,172.43 L178.30,170.63 L178.80,171.28 L179.30,167.66 L179.80,170.87 L180.30,171.39 L180.80,171.78 L181.30,171.12 L181.80,169.96 L182.30,172.31 L182.80,170.83 L183.30,172.19 L183.80,172.26 L184.30,171.57 L184.80,171.71 L185.30,171.61 L185.80,171.18 L186.30,171.33 L186.80,172.08 L187.30,171.86 L187.80,172.11 L188.30,171.61 L188.80,172.43 L189.30,170.68 L189.80,171.10 L190.30,171.13 L190.80,170.95 L191.30,171.71 L191.80,171.25 L192.30,171.05 L192.80,171.81 L193.30,168.69 L193.80,170.88 L194.30,170.47 L194.80,171.98 L195.30,171.81 L195.80,170.45 L196.30,171.67 L196.80,171.93 L197.30,170.83 L197.80,170.94 L198.30,170.67 L198.80,170.77 L199.30,171.45 L199.80,171.42 L200.30,171.12 L200.80,171.11 L201.30,172.23 L201.80,171.93 L202.30,171.55 L202.80,172.40 L203.30,172.27 L203.80,171.88 L204.30,171.00 L204.80,171.68 L205.30,172.26 L205.80,171.03 L206.30,170.44 L206.80,171.19 L207.30,171.03 L207.80,172.22 L208.30,170.53 L208.80,171.17 L209.30,171.91 L209.80,172.49 L210.30,172.15 L210.80,169.64 L211.30,172.14 L211.80,171.34 L212.30,170.72 L212.80,172.15 L213.30,172.30 L213.80,171.85 L214.30,172.05 L214.80,170.84 L215.30,170.93 L215.80,171.99 L216.30,171.86 L216.80,170.66 L217.30,172.32 L217.80,170.57 L218.30,171.05 L218.80,172.11 L219.30,170.44 L219.80,168.44 L220.30,171.48 L220.80,172.15 L221.30,172.25 L221.80,170.05 L222.30,172.20 L222.80,168.32 L223.30,170.47 L223.80,171.29 L224.30,171.23 L224.80,171.57 L225.30,172.11 L225.80,170.90 L226.30,172.36 L226.80,172.17 L227.30,171.84 L227.80,171.76 L228.30,172.26 L228.80,171.79 L229.30,172.00 L229.80,171.89 L230.30,171.12 L230.80,170.88 L231.30,171.84 L231.80,170.93 L232.30,170.92 L232.80,170.55 L233.30,171.09 L233.80,171.39 L234.30,172.30 L234.80,171.94 L235.30,171.61 L235.80,171.98 L236.30,170.68 L236.80,170.30 L237.30,170.47 L237.80,171.37 L238.30,171.43 L238.80,170.46 L239.30,172.00 L239.80,171.62 L240.30,171.08 L240.80,171.05 L241.30,172.47 L241.80,171.71 L242.30,171.09 L242.80,170.54 L243.30,170.70 L243.80,171.27 L244.30,172.37 L244.80,171.71 L245.30,169.56 L245.80,170.49 L246.30,172.11 L246.80,170.83 L247.30,170.88 L247.80,171.25 L248.30,168.21 L248.80,170.72 L249.30,170.70 L249.80,172.15 L250.30,170.78 L250.80,172.41 L251.30,172.11 L251.80,171.15 L252.30,171.65 L252.80,171.78 L253.30,172.07 L253.80,171.11 L254.30,172.26 L254.80,171.13 L255.30,170.83 L255.80,172.32 L256.30,171.66 L256.80,170.45 L257.30,171.97 L257.80,171.45 L258.30,172.29 L258.80,171.12 L259.30,170.90 L259.80,170.82 L260.30,168.76 L260.80,171.01 L261.30,171.51 L261.80,170.83 L262.30,170.86 L262.80,170.87 L263.30,171.78 L263.80,170.60 L264.30,171.74 L264.80,170.91 L265.30,171.56 L265.80,172.31 L266.30,171.11 L266.80,170.51 L267.30,170.84 L267.80,171.81 L268.30,171.95 L268.80,172.21 L269.30,170.55 L269.80,171.18 L270.30,170.47 L270.80,171.47 L271.30,168.51 L271.80,171.66 L272.30,170.48 L272.80,171.63 L273.30,171.92 L273.80,172.15 L274.30,172.39 L274.5,173.8 Z" fill="#c8001a" stroke="none"/>
<path d="M182.3,173.8 L182.6,166.6 L183.0,173.8 Z M228.5,173.8 L228.8,168.8 L229.2,173.8 Z M252.5,173.8 L252.8,168.3 L253.2,173.8 Z M140.5,173.8 L140.8,169.2 L141.2,173.8 Z" fill="#c8001a"/>
<line x1="125.5" y1="180.8" x2="132.5" y2="180.8" stroke="#2a58c8" stroke-width="1.6"/>
<line x1="133.8" y1="180.8" x2="140" y2="180.8" stroke="#2a58c8" stroke-width="1.6"/>
<line x1="145.5" y1="180.8" x2="152.5" y2="180.8" stroke="#2a58c8" stroke-width="1.6"/>
<line x1="203.7" y1="180.5" x2="211" y2="180.5" stroke="#2a58c8" stroke-width="1.6"/>
<text x="215.8" y="182.7" transform="translate(215.8,182.7) scale(1,1.12) translate(-215.8,-182.7)" font-size="8.4" fill="#2d55c4" stroke="#2d55c4" stroke-width="0.1" text-anchor="start" font-weight="normal" font-style="normal" textLength="57.9" lengthAdjust="spacingAndGlyphs" >HOXA9 peaks</text>
<text x="252" y="159" transform="translate(252,159) scale(1,1.12) translate(-252,-159)" font-size="7.0" fill="#111" stroke="#111" stroke-width="0.1" text-anchor="start" font-weight="normal" font-style="normal" textLength="17.6" lengthAdjust="spacingAndGlyphs" >10 kb</text>
<path d="M250.4,161 V163 H270.8 V161" stroke="#000" stroke-width="0.9" fill="none" />
<line x1="123.1" y1="201.7" x2="155.9" y2="201.7" stroke="#4ce82a" stroke-width="1.7"/>
<text x="160.8" y="205.2" transform="translate(160.8,205.2) scale(1,1.12) translate(-160.8,-205.2)" font-size="8.8" fill="#4ce82a" stroke="#4ce82a" stroke-width="0.1" text-anchor="start" font-weight="normal" font-style="normal" textLength="45.5" lengthAdjust="spacingAndGlyphs" >MEF2D SE</text>
<path d="M56.8,218.1 L56.80,217.84 L57.20,217.65 L57.60,217.78 L58.00,217.73 L58.40,217.78 L58.80,217.52 L59.20,217.58 L59.60,217.64 L60.00,217.80 L60.40,217.38 L60.80,217.75 L61.20,217.67 L61.60,217.74 L62.00,217.56 L62.40,217.37 L62.80,217.67 L63.20,217.43 L63.60,217.83 L64.00,217.42 L64.40,217.74 L64.80,217.49 L65.20,217.53 L65.60,217.83 L66.00,217.68 L66.40,217.53 L66.80,217.37 L67.20,217.35 L67.60,217.70 L68.00,217.54 L68.40,217.51 L68.80,217.75 L69.20,217.55 L69.60,217.80 L70.00,217.39 L70.40,217.35 L70.80,217.62 L71.20,217.63 L71.60,217.57 L72.00,217.80 L72.40,217.79 L72.80,217.68 L73.20,217.42 L73.60,217.60 L74.00,217.71 L74.40,217.54 L74.80,217.83 L75.20,217.78 L75.60,217.50 L76.00,217.47 L76.40,217.47 L76.80,217.38 L77.20,217.71 L77.60,217.83 L78.00,217.42 L78.40,217.54 L78.80,217.75 L79.20,217.70 L79.60,217.62 L80.00,217.59 L80.40,217.65 L80.80,217.49 L81.20,217.49 L81.60,217.78 L82.00,217.46 L82.40,217.38 L82.80,217.56 L83.20,217.42 L83.60,217.64 L84.00,217.66 L84.40,217.64 L84.80,217.58 L85.20,217.46 L85.60,217.44 L86.00,217.54 L86.40,217.72 L86.80,217.44 L87.20,217.65 L87.60,217.66 L88.00,217.74 L88.40,217.50 L88.80,217.46 L89.20,217.73 L89.60,217.61 L90.00,217.38 L90.40,217.76 L90.80,217.61 L91.20,217.61 L91.60,217.66 L92.00,217.70 L92.40,217.56 L92.80,217.46 L93.20,217.55 L93.60,217.58 L94.00,217.80 L94.40,217.76 L94.80,217.58 L95.20,217.51 L95.60,217.42 L96.00,217.66 L96.40,217.57 L96.80,217.64 L97.20,217.73 L97.60,217.83 L98.00,217.51 L98.40,217.36 L98.80,217.82 L99.20,217.60 L99.60,217.78 L100.00,217.69 L100.40,217.65 L100.80,217.63 L101.20,217.84 L101.60,217.63 L102.00,217.61 L102.40,217.40 L102.80,217.49 L103.20,217.77 L103.60,217.42 L104.00,217.57 L104.40,217.69 L104.80,217.64 L105.20,217.51 L105.60,217.83 L106.00,217.62 L106.40,217.44 L106.80,217.39 L107.20,217.39 L107.60,217.57 L108.00,217.62 L108.40,217.56 L108.80,217.41 L109.20,217.66 L109.60,217.68 L110.00,217.64 L110.40,217.71 L110.80,217.52 L111.20,217.76 L111.60,217.72 L112.00,217.77 L112.40,217.80 L112.80,217.72 L113.20,217.63 L113.60,217.80 L114.00,217.58 L114.40,217.67 L114.80,217.61 L115.20,217.55 L115.60,217.43 L116.00,217.46 L116.40,217.54 L116.80,217.39 L117.20,217.03 L117.60,216.69 L118.00,216.96 L118.40,216.30 L118.80,216.23 L119.20,216.34 L119.60,216.53 L120.00,216.55 L120.40,216.79 L120.80,217.06 L121.20,217.27 L121.60,217.27 L122.00,217.21 L122.40,217.26 L122.80,217.43 L123.20,217.35 L123.60,217.33 L124.00,217.36 L124.40,217.33 L124.80,217.45 L125.20,213.15 L125.60,212.07 L126.00,211.82 L126.40,212.69 L126.80,211.17 L127.20,213.03 L127.60,211.35 L128.00,210.83 L128.40,210.24 L128.80,211.05 L129.20,210.13 L129.60,206.42 L130.00,205.67 L130.40,205.84 L130.80,208.92 L131.20,208.89 L131.60,210.42 L132.00,210.33 L132.40,210.79 L132.80,210.96 L133.20,211.87 L133.60,211.22 L134.00,211.21 L134.40,212.20 L134.80,212.04 L135.20,211.20 L135.60,210.79 L136.00,211.25 L136.40,211.09 L136.80,209.30 L137.20,207.41 L137.60,205.87 L138.00,210.04 L138.40,210.68 L138.80,210.39 L139.20,210.14 L139.60,212.27 L140.00,212.60 L140.40,211.78 L140.80,212.21 L141.20,209.44 L141.60,210.79 L142.00,209.10 L142.40,210.15 L142.80,210.19 L143.20,210.63 L143.60,212.39 L144.00,210.47 L144.40,210.38 L144.80,210.96 L145.20,211.48 L145.60,210.60 L146.00,211.11 L146.40,209.41 L146.80,209.75 L147.20,209.15 L147.60,205.73 L148.00,206.76 L148.40,207.25 L148.80,210.41 L149.20,209.24 L149.60,209.10 L150.00,206.76 L150.40,208.69 L150.80,211.20 L151.20,211.49 L151.60,210.27 L152.00,211.57 L152.40,212.93 L152.80,213.51 L153.20,211.99 L153.60,212.79 L154.00,214.58 L154.40,214.48 L154.80,214.70 L155.20,214.86 L155.60,215.73 L156.00,216.81 L156.40,217.17 L156.80,217.61 L157.20,217.36 L157.60,217.73 L158.00,217.64 L158.40,217.59 L158.80,217.11 L159.20,217.69 L159.60,217.43 L160.00,217.59 L160.40,217.53 L160.80,217.75 L161.20,217.84 L161.60,217.53 L162.00,217.63 L162.40,217.57 L162.80,217.57 L163.20,217.55 L163.60,217.81 L164.00,217.50 L164.40,217.39 L164.80,217.48 L165.20,217.80 L165.60,217.84 L166.00,217.46 L166.40,217.83 L166.80,217.36 L167.20,217.70 L167.60,217.67 L168.00,217.52 L168.40,217.61 L168.80,217.47 L169.20,217.43 L169.60,217.71 L170.00,217.40 L170.40,217.78 L170.80,217.60 L171.20,217.73 L171.60,217.47 L172.00,217.71 L172.40,217.72 L172.80,217.41 L173.20,217.82 L173.60,217.82 L174.00,217.67 L174.40,217.45 L174.80,217.48 L175.20,217.21 L175.60,217.39 L176.00,217.82 L176.40,217.39 L176.80,217.62 L177.20,217.70 L177.60,217.78 L178.00,217.36 L178.40,217.55 L178.80,217.78 L179.20,216.77 L179.60,217.66 L180.00,217.53 L180.40,217.68 L180.80,217.83 L181.20,217.40 L181.60,217.68 L182.00,217.35 L182.40,217.42 L182.80,217.37 L183.20,217.36 L183.60,217.51 L184.00,217.56 L184.40,217.52 L184.80,217.53 L185.20,217.37 L185.60,217.67 L186.00,217.76 L186.40,217.36 L186.80,217.62 L187.20,217.45 L187.60,217.64 L188.00,217.73 L188.40,217.54 L188.80,217.78 L189.20,217.70 L189.60,217.72 L190.00,217.68 L190.40,217.44 L190.80,217.40 L191.20,217.42 L191.60,217.60 L192.00,217.67 L192.40,217.56 L192.80,217.80 L193.20,217.69 L193.60,217.39 L194.00,217.66 L194.40,217.36 L194.80,217.44 L195.20,217.48 L195.60,217.73 L196.00,217.66 L196.40,217.51 L196.80,217.58 L197.20,217.79 L197.60,217.55 L198.00,217.84 L198.40,217.53 L198.80,217.38 L199.20,217.49 L199.60,217.55 L200.00,217.65 L200.40,217.37 L200.80,217.57 L201.20,217.41 L201.60,217.46 L202.00,217.65 L202.40,217.70 L202.80,217.76 L203.20,217.36 L203.60,217.42 L204.00,217.38 L204.40,217.64 L204.80,217.69 L205.20,217.56 L205.60,216.89 L206.00,216.40 L206.40,214.51 L206.80,211.26 L207.20,211.75 L207.60,214.82 L208.00,216.57 L208.40,217.36 L208.80,217.37 L209.20,217.75 L209.60,217.72 L210.00,217.58 L210.40,217.67 L210.80,217.61 L211.20,217.60 L211.60,217.70 L212.00,217.54 L212.40,217.43 L212.80,217.75 L213.20,217.46 L213.60,217.60 L214.00,217.45 L214.40,217.84 L214.80,217.61 L215.20,217.84 L215.60,217.45 L216.00,216.72 L216.40,217.77 L216.80,217.68 L217.20,217.40 L217.60,217.64 L218.00,217.63 L218.40,217.68 L218.80,217.40 L219.20,217.84 L219.60,217.50 L220.00,217.48 L220.40,217.83 L220.80,217.73 L221.20,217.75 L221.60,217.43 L222.00,217.53 L222.40,217.72 L222.80,217.38 L223.20,217.47 L223.60,217.84 L224.00,217.80 L224.40,217.70 L224.80,217.77 L225.20,217.64 L225.60,217.68 L226.00,217.70 L226.40,217.65 L226.80,217.41 L227.20,217.75 L227.60,217.77 L228.00,217.84 L228.40,217.39 L228.80,217.68 L229.20,217.76 L229.60,217.81 L230.00,217.77 L230.40,217.79 L230.80,217.75 L231.20,217.84 L231.60,217.40 L232.00,217.84 L232.40,217.70 L232.80,217.78 L233.20,217.57 L233.60,217.40 L234.00,217.63 L234.40,217.77 L234.80,217.36 L235.20,217.48 L235.60,217.50 L236.00,217.50 L236.40,217.61 L236.80,217.68 L237.20,217.51 L237.60,217.50 L238.00,217.39 L238.40,217.48 L238.80,217.78 L239.20,217.44 L239.60,217.64 L240.00,217.81 L240.40,217.50 L240.80,217.35 L241.20,217.79 L241.60,217.77 L242.00,217.44 L242.40,217.64 L242.80,217.43 L243.20,217.43 L243.60,217.51 L244.00,217.58 L244.40,217.71 L244.80,217.79 L245.20,217.37 L245.60,217.78 L246.00,217.45 L246.40,217.59 L246.80,217.40 L247.20,217.49 L247.60,217.65 L248.00,217.49 L248.40,217.81 L248.80,217.82 L249.20,217.61 L249.60,217.60 L250.00,217.47 L250.40,217.53 L250.80,217.58 L251.20,217.38 L251.60,217.84 L252.00,217.81 L252.40,217.53 L252.80,217.45 L253.20,217.64 L253.60,217.68 L254.00,217.76 L254.40,217.80 L254.80,217.49 L255.20,217.82 L255.60,217.52 L256.00,217.65 L256.40,217.49 L256.80,217.78 L257.20,217.36 L257.60,217.43 L258.00,217.58 L258.40,217.62 L258.80,217.51 L259.20,217.72 L259.60,217.60 L260.00,217.83 L260.40,217.63 L260.80,217.36 L261.20,217.64 L261.60,217.64 L262.00,217.48 L262.40,217.54 L262.80,217.76 L263.20,217.60 L263.60,217.66 L264.00,217.41 L264.40,217.56 L264.80,217.56 L265.20,217.74 L265.60,217.75 L266.00,217.38 L266.40,217.47 L266.80,217.64 L267.20,217.60 L267.60,217.68 L268.00,217.37 L268.40,217.61 L268.80,217.54 L269.20,217.75 L269.60,217.61 L270.00,217.71 L270.40,217.68 L270.80,217.40 L271.20,217.62 L271.60,217.50 L272.00,217.47 L272.40,217.65 L272.80,217.66 L273.20,217.63 L273.60,217.48 L274.00,217.49 L274.40,217.40 L274.5,218.1 Z" fill="#4cf01a" stroke="none"/>
<path d="M56.8,240.0 L56.80,237.68 L57.20,238.08 L57.60,237.30 L58.00,237.35 L58.40,237.01 L58.80,236.92 L59.20,236.81 L59.60,236.66 L60.00,238.08 L60.40,235.65 L60.80,238.34 L61.20,236.80 L61.60,237.02 L62.00,238.16 L62.40,238.16 L62.80,237.09 L63.20,238.30 L63.60,237.22 L64.00,238.05 L64.40,236.79 L64.80,238.12 L65.20,237.63 L65.60,237.46 L66.00,237.44 L66.40,237.02 L66.80,236.99 L67.20,236.73 L67.60,237.66 L68.00,238.32 L68.40,236.74 L68.80,238.19 L69.20,238.16 L69.60,237.15 L70.00,237.24 L70.40,236.79 L70.80,237.94 L71.20,237.01 L71.60,237.62 L72.00,236.56 L72.40,238.00 L72.80,237.87 L73.20,237.78 L73.60,237.68 L74.00,236.97 L74.40,237.99 L74.80,238.34 L75.20,236.66 L75.60,237.32 L76.00,237.77 L76.40,235.12 L76.80,237.26 L77.20,237.35 L77.60,236.56 L78.00,235.66 L78.40,236.61 L78.80,237.43 L79.20,238.06 L79.60,235.89 L80.00,237.27 L80.40,237.10 L80.80,236.68 L81.20,238.11 L81.60,237.24 L82.00,236.75 L82.40,237.28 L82.80,236.88 L83.20,237.95 L83.60,237.27 L84.00,238.05 L84.40,238.26 L84.80,236.61 L85.20,238.30 L85.60,237.04 L86.00,238.35 L86.40,238.03 L86.80,237.79 L87.20,238.07 L87.60,237.98 L88.00,236.11 L88.40,235.74 L88.80,236.35 L89.20,237.02 L89.60,238.05 L90.00,237.29 L90.40,237.47 L90.80,237.03 L91.20,238.06 L91.60,236.97 L92.00,236.78 L92.40,236.27 L92.80,238.27 L93.20,236.50 L93.60,236.97 L94.00,236.15 L94.40,237.73 L94.80,238.07 L95.20,238.23 L95.60,237.80 L96.00,237.81 L96.40,238.03 L96.80,236.55 L97.20,237.09 L97.60,236.66 L98.00,237.88 L98.40,236.92 L98.80,238.08 L99.20,237.50 L99.60,236.72 L100.00,237.92 L100.40,237.39 L100.80,237.09 L101.20,237.93 L101.60,236.97 L102.00,238.03 L102.40,237.87 L102.80,236.78 L103.20,238.22 L103.60,236.51 L104.00,237.63 L104.40,238.38 L104.80,236.63 L105.20,237.54 L105.60,236.57 L106.00,236.59 L106.40,234.79 L106.80,234.51 L107.20,235.42 L107.60,233.31 L108.00,233.08 L108.40,235.85 L108.80,235.65 L109.20,236.97 L109.60,237.23 L110.00,236.65 L110.40,237.38 L110.80,237.28 L111.20,236.69 L111.60,237.09 L112.00,236.53 L112.40,236.42 L112.80,235.22 L113.20,236.49 L113.60,237.16 L114.00,236.74 L114.40,235.56 L114.80,235.20 L115.20,234.46 L115.60,234.99 L116.00,235.12 L116.40,234.30 L116.80,233.50 L117.20,232.99 L117.60,231.41 L118.00,227.37 L118.40,229.15 L118.80,227.70 L119.20,226.41 L119.60,230.40 L120.00,229.83 L120.40,229.87 L120.80,229.97 L121.20,232.68 L121.60,233.11 L122.00,234.48 L122.40,235.56 L122.80,235.52 L123.20,237.00 L123.60,237.11 L124.00,236.96 L124.40,236.92 L124.80,235.96 L125.20,236.06 L125.60,235.42 L126.00,235.73 L126.40,233.52 L126.80,233.13 L127.20,233.95 L127.60,235.72 L128.00,235.28 L128.40,236.89 L128.80,236.24 L129.20,236.52 L129.60,236.13 L130.00,235.99 L130.40,234.91 L130.80,235.76 L131.20,233.44 L131.60,233.50 L132.00,230.85 L132.40,225.97 L132.80,228.18 L133.20,232.76 L133.60,233.77 L134.00,235.14 L134.40,235.25 L134.80,236.13 L135.20,236.51 L135.60,236.64 L136.00,237.18 L136.40,237.44 L136.80,238.14 L137.20,237.99 L137.60,237.85 L138.00,238.34 L138.40,236.56 L138.80,236.87 L139.20,236.98 L139.60,236.21 L140.00,236.26 L140.40,236.01 L140.80,236.71 L141.20,236.30 L141.60,235.96 L142.00,234.62 L142.40,234.10 L142.80,233.20 L143.20,233.08 L143.60,233.63 L144.00,233.63 L144.40,235.06 L144.80,234.85 L145.20,233.88 L145.60,231.29 L146.00,230.61 L146.40,229.24 L146.80,231.11 L147.20,233.84 L147.60,232.55 L148.00,234.70 L148.40,235.28 L148.80,235.54 L149.20,234.55 L149.60,234.61 L150.00,231.96 L150.40,231.88 L150.80,229.40 L151.20,227.07 L151.60,230.75 L152.00,228.39 L152.40,228.37 L152.80,223.76 L153.20,224.78 L153.60,226.30 L154.00,226.40 L154.40,229.70 L154.80,231.22 L155.20,229.86 L155.60,232.00 L156.00,232.44 L156.40,233.53 L156.80,234.47 L157.20,234.56 L157.60,236.04 L158.00,236.16 L158.40,236.14 L158.80,236.33 L159.20,235.95 L159.60,236.41 L160.00,235.86 L160.40,236.75 L160.80,236.51 L161.20,237.37 L161.60,236.87 L162.00,236.95 L162.40,236.54 L162.80,236.28 L163.20,236.99 L163.60,235.84 L164.00,235.36 L164.40,235.16 L164.80,235.03 L165.20,234.86 L165.60,235.82 L166.00,237.34 L166.40,237.17 L166.80,236.20 L167.20,236.62 L167.60,237.25 L168.00,236.77 L168.40,236.94 L168.80,237.38 L169.20,237.43 L169.60,237.48 L170.00,236.65 L170.40,237.56 L170.80,237.56 L171.20,236.96 L171.60,237.84 L172.00,236.06 L172.40,235.84 L172.80,237.27 L173.20,236.89 L173.60,237.42 L174.00,236.58 L174.40,237.14 L174.80,237.09 L175.20,237.45 L175.60,236.72 L176.00,237.55 L176.40,237.06 L176.80,236.44 L177.20,237.54 L177.60,237.40 L178.00,237.48 L178.40,236.61 L178.80,237.38 L179.20,236.58 L179.60,237.76 L180.00,237.53 L180.40,237.21 L180.80,236.63 L181.20,237.81 L181.60,236.00 L182.00,237.25 L182.40,237.54 L182.80,237.66 L183.20,236.37 L183.60,237.15 L184.00,237.38 L184.40,236.63 L184.80,237.59 L185.20,237.05 L185.60,236.93 L186.00,237.70 L186.40,237.45 L186.80,237.30 L187.20,234.64 L187.60,237.14 L188.00,237.13 L188.40,235.14 L188.80,237.78 L189.20,237.00 L189.60,236.80 L190.00,236.99 L190.40,236.57 L190.80,235.35 L191.20,237.00 L191.60,236.51 L192.00,237.17 L192.40,237.18 L192.80,237.18 L193.20,237.21 L193.60,237.05 L194.00,236.76 L194.40,236.05 L194.80,235.99 L195.20,235.17 L195.60,236.20 L196.00,236.98 L196.40,237.11 L196.80,235.74 L197.20,237.08 L197.60,236.85 L198.00,237.62 L198.40,237.06 L198.80,235.22 L199.20,237.05 L199.60,237.40 L200.00,237.02 L200.40,235.08 L200.80,237.28 L201.20,236.98 L201.60,236.64 L202.00,236.99 L202.40,237.44 L202.80,237.68 L203.20,236.97 L203.60,237.55 L204.00,237.37 L204.40,237.64 L204.80,236.50 L205.20,237.04 L205.60,237.12 L206.00,236.57 L206.40,235.08 L206.80,234.56 L207.20,234.13 L207.60,234.90 L208.00,236.13 L208.40,236.70 L208.80,237.68 L209.20,236.91 L209.60,237.12 L210.00,236.04 L210.40,237.66 L210.80,237.16 L211.20,236.96 L211.60,237.40 L212.00,237.26 L212.40,237.06 L212.80,237.42 L213.20,237.18 L213.60,237.16 L214.00,237.51 L214.40,237.55 L214.80,236.60 L215.20,237.05 L215.60,237.25 L216.00,235.71 L216.40,237.11 L216.80,237.19 L217.20,235.07 L217.60,236.18 L218.00,237.29 L218.40,237.01 L218.80,237.57 L219.20,237.12 L219.60,235.62 L220.00,236.72 L220.40,237.50 L220.80,236.52 L221.20,236.61 L221.60,237.14 L222.00,236.74 L222.40,237.14 L222.80,237.29 L223.20,237.75 L223.60,237.17 L224.00,237.39 L224.40,236.97 L224.80,237.45 L225.20,236.89 L225.60,237.89 L226.00,237.78 L226.40,236.53 L226.80,237.24 L227.20,237.76 L227.60,237.17 L228.00,237.06 L228.40,236.75 L228.80,236.68 L229.20,237.00 L229.60,237.01 L230.00,237.41 L230.40,237.32 L230.80,237.37 L231.20,237.00 L231.60,237.68 L232.00,235.86 L232.40,235.25 L232.80,232.89 L233.20,234.02 L233.60,232.74 L234.00,230.80 L234.40,232.79 L234.80,234.13 L235.20,235.95 L235.60,236.91 L236.00,236.75 L236.40,237.11 L236.80,237.21 L237.20,237.21 L237.60,236.52 L238.00,237.03 L238.40,237.84 L238.80,237.27 L239.20,237.66 L239.60,236.61 L240.00,236.78 L240.40,236.80 L240.80,236.38 L241.20,235.12 L241.60,237.65 L242.00,236.85 L242.40,237.25 L242.80,237.72 L243.20,236.57 L243.60,236.73 L244.00,237.45 L244.40,237.15 L244.80,236.75 L245.20,237.04 L245.60,236.91 L246.00,237.23 L246.40,237.33 L246.80,236.05 L247.20,237.80 L247.60,237.97 L248.00,237.04 L248.40,237.49 L248.80,237.68 L249.20,237.02 L249.60,237.15 L250.00,236.80 L250.40,237.53 L250.80,237.60 L251.20,236.67 L251.60,237.06 L252.00,236.52 L252.40,234.81 L252.80,234.11 L253.20,233.97 L253.60,235.66 L254.00,236.74 L254.40,237.60 L254.80,237.83 L255.20,237.03 L255.60,238.33 L256.00,238.24 L256.40,237.21 L256.80,235.08 L257.20,236.92 L257.60,236.55 L258.00,237.51 L258.40,238.28 L258.80,238.38 L259.20,237.86 L259.60,236.89 L260.00,236.56 L260.40,238.19 L260.80,236.83 L261.20,236.61 L261.60,236.89 L262.00,237.08 L262.40,237.44 L262.80,237.24 L263.20,236.89 L263.60,237.82 L264.00,237.07 L264.40,235.18 L264.80,235.49 L265.20,237.90 L265.60,238.15 L266.00,237.23 L266.40,237.43 L266.80,237.39 L267.20,238.19 L267.60,236.68 L268.00,237.24 L268.40,237.18 L268.80,236.55 L269.20,236.26 L269.60,235.21 L270.00,237.68 L270.40,236.61 L270.80,237.20 L271.20,236.83 L271.60,237.29 L272.00,237.77 L272.40,237.91 L272.80,237.21 L273.20,236.77 L273.60,236.90 L274.00,236.88 L274.40,237.19 L274.5,240.0 Z" fill="#2a0c94" stroke="none"/>
<line x1="45.9" y1="243.1" x2="93.0" y2="243.1" stroke="#1a3560" stroke-width="1.1"/>
<rect x="46.3" y="241.6" width="1.4" height="3.0" fill="#1a3560"/>
<rect x="50.199999999999996" y="241.6" width="1.4" height="3.0" fill="#1a3560"/>
<rect x="55.199999999999996" y="241.6" width="1.4" height="3.0" fill="#1a3560"/>
<rect x="60.3" y="241.6" width="1.4" height="3.0" fill="#1a3560"/>
<rect x="66.89999999999999" y="241.6" width="1.4" height="3.0" fill="#1a3560"/>
<rect x="69.2" y="241.6" width="1.4" height="3.0" fill="#1a3560"/>
<rect x="85.3" y="241.6" width="1.4" height="3.0" fill="#1a3560"/>
<rect x="87.0" y="241.6" width="1.4" height="3.0" fill="#1a3560"/>
<rect x="76.6" y="241.6" width="3.9" height="3.0" rx="0.8" fill="#1a3560"/>
<path d="M52.699999999999996,242.1 L53.699999999999996,243.1 L52.699999999999996,244.1" stroke="#1a3560" stroke-width="0.6" fill="none" />
<path d="M57.699999999999996,242.1 L58.699999999999996,243.1 L57.699999999999996,244.1" stroke="#1a3560" stroke-width="0.6" fill="none" />
<path d="M63.599999999999994,242.1 L64.6,243.1 L63.599999999999994,244.1" stroke="#1a3560" stroke-width="0.6" fill="none" />
<path d="M72.8,242.1 L73.8,243.1 L72.8,244.1" stroke="#1a3560" stroke-width="0.6" fill="none" />
<path d="M82.5,242.1 L83.5,243.1 L82.5,244.1" stroke="#1a3560" stroke-width="0.6" fill="none" />
<path d="M89.8,242.1 L90.8,243.1 L89.8,244.1" stroke="#1a3560" stroke-width="0.6" fill="none" />
<path d="M92.2,241.8 L94.0,243.1 L92.2,244.4 Z" stroke="#1a3560" stroke-width="0.5" fill="#1a3560" />
<line x1="136" y1="242.7" x2="196" y2="242.7" stroke="#1b2a55" stroke-width="0.8"/>
<ellipse cx="136.3" cy="242.7" rx="0.8" ry="1.2" fill="#1b2a55"/>
<ellipse cx="163.2" cy="242.7" rx="0.8" ry="1.2" fill="#1b2a55"/>
<ellipse cx="165.8" cy="242.7" rx="0.8" ry="1.2" fill="#1b2a55"/>
<ellipse cx="168.4" cy="242.7" rx="0.8" ry="1.2" fill="#1b2a55"/>
<ellipse cx="171.2" cy="242.7" rx="0.8" ry="1.2" fill="#1b2a55"/>
<ellipse cx="174.0" cy="242.7" rx="0.8" ry="1.2" fill="#1b2a55"/>
<ellipse cx="176.5" cy="242.7" rx="0.8" ry="1.2" fill="#1b2a55"/>
<path d="M140.7,241.9 L139.7,242.7 L140.7,243.5" stroke="#1b2a55" stroke-width="0.55" fill="none" />
<path d="M144.7,241.9 L143.7,242.7 L144.7,243.5" stroke="#1b2a55" stroke-width="0.55" fill="none" />
<path d="M148.7,241.9 L147.7,242.7 L148.7,243.5" stroke="#1b2a55" stroke-width="0.55" fill="none" />
<path d="M152.7,241.9 L151.7,242.7 L152.7,243.5" stroke="#1b2a55" stroke-width="0.55" fill="none" />
<path d="M156.7,241.9 L155.7,242.7 L156.7,243.5" stroke="#1b2a55" stroke-width="0.55" fill="none" />
<path d="M160.7,241.9 L159.7,242.7 L160.7,243.5" stroke="#1b2a55" stroke-width="0.55" fill="none" />
<path d="M180.7,241.9 L179.7,242.7 L180.7,243.5" stroke="#1b2a55" stroke-width="0.55" fill="none" />
<path d="M183.7,241.9 L182.7,242.7 L183.7,243.5" stroke="#1b2a55" stroke-width="0.55" fill="none" />
<ellipse cx="187.5" cy="242.7" rx="1.7" ry="1.5" fill="#1b2a55"/>
<rect x="188.5" y="242.0" width="6.2" height="1.4" fill="#1b2a55" stroke="none" stroke-width="0" />
<path d="M197.3,241.9 L198.3,242.7 L197.3,243.5" stroke="#1b2a55" stroke-width="0.55" fill="none" />
<path d="M200.8,241.9 L201.8,242.7 L200.8,243.5" stroke="#1b2a55" stroke-width="0.55" fill="none" />
<path d="M204.3,241.9 L205.3,242.7 L204.3,243.5" stroke="#1b2a55" stroke-width="0.55" fill="none" />
<line x1="196" y1="242.7" x2="206" y2="242.7" stroke="#1b2a55" stroke-width="0.8"/>
<text x="55.6" y="254.3" transform="translate(55.6,254.3) scale(1,1.12) translate(-55.6,-254.3)" font-size="8.8" fill="#111" stroke="#111" stroke-width="0.1" text-anchor="start" font-weight="normal" font-style="italic" textLength="27.5" lengthAdjust="spacingAndGlyphs" >Iqgap3</text>
<text x="141.2" y="254.5" transform="translate(141.2,254.5) scale(1,1.12) translate(-141.2,-254.5)" font-size="8.8" fill="#111" stroke="#111" stroke-width="0.1" text-anchor="start" font-weight="normal" font-style="italic" textLength="25.0" lengthAdjust="spacingAndGlyphs" >Mef2d</text>
<text x="184.5" y="254.6" transform="translate(184.5,254.6) scale(1,1.12) translate(-184.5,-254.6)" font-size="8.6" fill="#111" stroke="#111" stroke-width="0.1" text-anchor="start" font-weight="normal" font-style="italic" textLength="63.5" lengthAdjust="spacingAndGlyphs" >1700113A16Rik</text>
<text x="385.8" y="155" transform="translate(385.8,155) scale(1,1.12) translate(-385.8,-155)" font-size="8.5" fill="#000" stroke="#000" stroke-width="0.1" text-anchor="start" font-weight="normal" font-style="normal" textLength="11.5" lengthAdjust="spacingAndGlyphs" >EV</text>
<text x="425" y="155" transform="translate(425,155) scale(1,1.12) translate(-425,-155)" font-size="8.5" fill="#000" stroke="#000" stroke-width="0.1" text-anchor="start" font-weight="normal" font-style="normal" textLength="25.4" lengthAdjust="spacingAndGlyphs" >Hoxa9</text>
<line x1="370.2" y1="158.8" x2="412.1" y2="158.8" stroke="#333" stroke-width="1.4"/>
<line x1="416.3" y1="158.8" x2="458" y2="158.8" stroke="#333" stroke-width="1.4"/>
<text transform="translate(381.2,174.9) rotate(-45)" font-size="8.4" fill="#d41f36" stroke="#d41f36" stroke-width="0.1" text-anchor="end" font-style="normal">DMSO</text>
<text transform="translate(408.15,166.35) rotate(-45)" font-size="8.4" fill="#2d55c4" stroke="#2d55c4" stroke-width="0.1" text-anchor="end" font-style="normal">SGC0946</text>
<text transform="translate(421.9,174.9) rotate(-45)" font-size="8.4" fill="#d41f36" stroke="#d41f36" stroke-width="0.1" text-anchor="end" font-style="normal">DMSO</text>
<text transform="translate(448.65,165.65) rotate(-45)" font-size="8.4" fill="#2d55c4" stroke="#2d55c4" stroke-width="0.1" text-anchor="end" font-style="normal">SGC0946</text>
<rect x="349.0" y="193.6" width="93.6" height="16.500000000000007" fill="#dfe8e6" stroke="#141414" stroke-width="1.4" />
<rect x="350.8" y="198.7" width="16.399999999999977" height="7.6" rx="3" fill="#000" filter="url(#bl)"/>
<rect x="374.8" y="201.8" width="17.399999999999977" height="3.4" rx="1.7" fill="#000" filter="url(#bl)"/>
<rect x="397" y="198.8" width="20.19999999999999" height="8.4" rx="3" fill="#000" filter="url(#bl)"/>
<rect x="422" y="198.55" width="18.600000000000023" height="6.9" rx="3" fill="#000" filter="url(#bl)"/>
<rect x="349.0" y="214.89999999999998" width="93.6" height="10.300000000000017" fill="#dfe8e6" stroke="#141414" stroke-width="1.4" />
<rect x="374.8" y="216.0" width="15.399999999999977" height="9.0" rx="3" fill="#000" filter="url(#bl)"/>
<rect x="423" y="217.05" width="15.5" height="5.5" rx="2.75" fill="#8e9a9a" filter="url(#bl2)"/>
<rect x="349.0" y="228.6" width="93.6" height="18.000000000000007" fill="#dfe8e6" stroke="#141414" stroke-width="1.4" />
<rect x="350.8" y="236.7" width="16.69999999999999" height="4.0" rx="2.0" fill="#000" filter="url(#bl)"/>
<rect x="374.8" y="236.7" width="16.69999999999999" height="4.0" rx="2.0" fill="#000" filter="url(#bl)"/>
<rect x="398" y="236.7" width="18" height="4.0" rx="2.0" fill="#000" filter="url(#bl)"/>
<rect x="423" y="236.3" width="17" height="4.4" rx="2.2" fill="#000" filter="url(#bl)"/>
<text x="447" y="205.2" transform="translate(447,205.2) scale(1,1.12) translate(-447,-205.2)" font-size="7.6" fill="#000" stroke="#000" stroke-width="0.1" text-anchor="start" font-weight="normal" font-style="normal" textLength="25.5" lengthAdjust="spacingAndGlyphs" >MEF2D</text>
<text x="447" y="222.2" transform="translate(447,222.2) scale(1,1.12) translate(-447,-222.2)" font-size="7.6" fill="#000" stroke="#000" stroke-width="0.1" text-anchor="start" font-weight="normal" font-style="normal" textLength="25.0" lengthAdjust="spacingAndGlyphs" >CEBPE</text>
<text x="447" y="240.2" transform="translate(447,240.2) scale(1,1.12) translate(-447,-240.2)" font-size="7.6" fill="#000" stroke="#000" stroke-width="0.1" text-anchor="start" font-weight="normal" font-style="normal" textLength="26.5" lengthAdjust="spacingAndGlyphs" >Vinculin</text>
<line x1="41.2" y1="292.9" x2="41.2" y2="363.8" stroke="#000" stroke-width="1.3"/>
<line x1="40.7" y1="363.3" x2="87.4" y2="363.3" stroke="#000" stroke-width="1.3"/>
<line x1="38.2" y1="293.4" x2="41.2" y2="293.4" stroke="#000" stroke-width="1"/>
<text x="36.300000000000004" y="296.09999999999997" transform="translate(36.300000000000004,296.09999999999997) scale(1,1.12) translate(-36.300000000000004,-296.09999999999997)" font-size="7.6" fill="#000" stroke="#000" stroke-width="0.1" text-anchor="end" font-weight="normal" font-style="normal" >15</text>
<line x1="38.2" y1="307.3" x2="41.2" y2="307.3" stroke="#000" stroke-width="1"/>
<text x="36.300000000000004" y="310.0" transform="translate(36.300000000000004,310.0) scale(1,1.12) translate(-36.300000000000004,-310.0)" font-size="7.6" fill="#000" stroke="#000" stroke-width="0.1" text-anchor="end" font-weight="normal" font-style="normal" >10</text>
<line x1="38.2" y1="321.2" x2="41.2" y2="321.2" stroke="#000" stroke-width="1"/>
<text x="36.300000000000004" y="323.9" transform="translate(36.300000000000004,323.9) scale(1,1.12) translate(-36.300000000000004,-323.9)" font-size="7.6" fill="#000" stroke="#000" stroke-width="0.1" text-anchor="end" font-weight="normal" font-style="normal" >5</text>
<line x1="38.2" y1="335.1" x2="41.2" y2="335.1" stroke="#000" stroke-width="1"/>
<text x="36.300000000000004" y="337.8" transform="translate(36.300000000000004,337.8) scale(1,1.12) translate(-36.300000000000004,-337.8)" font-size="7.6" fill="#000" stroke="#000" stroke-width="0.1" text-anchor="end" font-weight="normal" font-style="normal" >0</text>
<line x1="38.2" y1="349.2" x2="41.2" y2="349.2" stroke="#000" stroke-width="1"/>
<text x="36.300000000000004" y="351.9" transform="translate(36.300000000000004,351.9) scale(1,1.12) translate(-36.300000000000004,-351.9)" font-size="7.6" fill="#000" stroke="#000" stroke-width="0.1" text-anchor="end" font-weight="normal" font-style="normal" >−5</text>
<line x1="38.2" y1="363.3" x2="41.2" y2="363.3" stroke="#000" stroke-width="1"/>
<text x="36.300000000000004" y="366.0" transform="translate(36.300000000000004,366.0) scale(1,1.12) translate(-36.300000000000004,-366.0)" font-size="7.6" fill="#000" stroke="#000" stroke-width="0.1" text-anchor="end" font-weight="normal" font-style="normal" >−10</text>
<line x1="54.5" y1="363.3" x2="54.5" y2="365.90000000000003" stroke="#000" stroke-width="1"/>
<line x1="74.4" y1="363.3" x2="74.4" y2="365.90000000000003" stroke="#000" stroke-width="1"/>
<text x="49.3" y="283.8" transform="translate(49.3,283.8) scale(1,1.12) translate(-49.3,-283.8)" font-size="8.6" fill="#000" stroke="#000" stroke-width="0.1" text-anchor="start" font-weight="normal" font-style="italic" textLength="31.7" lengthAdjust="spacingAndGlyphs" >HOXA9</text>
<line x1="54.5" y1="320.2" x2="54.5" y2="329.2" stroke="#d21c34" stroke-width="1.1"/>
<line x1="54.5" y1="336.2" x2="54.5" y2="350.8" stroke="#d21c34" stroke-width="1.1"/>
<line x1="51.5" y1="320.2" x2="57.5" y2="320.2" stroke="#d21c34" stroke-width="1.1"/>
<line x1="51.5" y1="350.8" x2="57.5" y2="350.8" stroke="#d21c34" stroke-width="1.1"/>
<rect x="48.949999999999996" y="329.2" width="11.100000000000003" height="7.0" fill="none" stroke="#d21c34" stroke-width="1.1" />
<line x1="48.9" y1="332.3" x2="60.1" y2="332.3" stroke="#d21c34" stroke-width="1.1"/>
<line x1="74.35" y1="298.0" x2="74.35" y2="304.1" stroke="#2553c8" stroke-width="1.1"/>
<line x1="74.35" y1="308.4" x2="74.35" y2="316.7" stroke="#2553c8" stroke-width="1.1"/>
<line x1="71.35" y1="298.0" x2="77.35" y2="298.0" stroke="#2553c8" stroke-width="1.1"/>
<line x1="71.35" y1="316.7" x2="77.35" y2="316.7" stroke="#2553c8" stroke-width="1.1"/>
<rect x="68.85" y="304.1" width="11.000000000000009" height="4.2999999999999545" fill="none" stroke="#2553c8" stroke-width="1.1" />
<line x1="68.8" y1="306.0" x2="79.9" y2="306.0" stroke="#2553c8" stroke-width="1.1"/>
<path d="M54.2,296.2 Q54.2,294.0 55.7,294.0 H72.9 Q74.4,294.0 74.4,296.2" stroke="#000" stroke-width="1" fill="none" />
<text x="64.30000000000001" y="293.4" transform="translate(64.30000000000001,293.4) scale(1,1.12) translate(-64.30000000000001,-293.4)" font-size="6.8" fill="#000" stroke="#000" stroke-width="0.1" text-anchor="middle" font-weight="normal" font-style="normal" >***</text>
<text x="54.5" y="375.0" transform="translate(54.5,375.0) scale(1,1.12) translate(-54.5,-375.0)" font-size="7.6" fill="#000" stroke="#000" stroke-width="0.1" text-anchor="middle" font-weight="normal" font-style="normal" >Low</text>
<text x="74.4" y="375.0" transform="translate(74.4,375.0) scale(1,1.12) translate(-74.4,-375.0)" font-size="7.6" fill="#000" stroke="#000" stroke-width="0.1" text-anchor="middle" font-weight="normal" font-style="normal" >High</text>
<line x1="125.8" y1="292.3" x2="125.8" y2="363.3" stroke="#000" stroke-width="1.3"/>
<line x1="125.3" y1="362.8" x2="172.3" y2="362.8" stroke="#000" stroke-width="1.3"/>
<line x1="122.8" y1="292.8" x2="125.8" y2="292.8" stroke="#000" stroke-width="1"/>
<text x="120.89999999999999" y="295.5" transform="translate(120.89999999999999,295.5) scale(1,1.12) translate(-120.89999999999999,-295.5)" font-size="7.6" fill="#000" stroke="#000" stroke-width="0.1" text-anchor="end" font-weight="normal" font-style="normal" >15</text>
<line x1="122.8" y1="328.0" x2="125.8" y2="328.0" stroke="#000" stroke-width="1"/>
<text x="120.89999999999999" y="330.7" transform="translate(120.89999999999999,330.7) scale(1,1.12) translate(-120.89999999999999,-330.7)" font-size="7.6" fill="#000" stroke="#000" stroke-width="0.1" text-anchor="end" font-weight="normal" font-style="normal" >12</text>
<line x1="122.8" y1="362.8" x2="125.8" y2="362.8" stroke="#000" stroke-width="1"/>
<text x="120.89999999999999" y="365.5" transform="translate(120.89999999999999,365.5) scale(1,1.12) translate(-120.89999999999999,-365.5)" font-size="7.6" fill="#000" stroke="#000" stroke-width="0.1" text-anchor="end" font-weight="normal" font-style="normal" >9</text>
<line x1="138.7" y1="362.8" x2="138.7" y2="365.40000000000003" stroke="#000" stroke-width="1"/>
<line x1="158.8" y1="362.8" x2="158.8" y2="365.40000000000003" stroke="#000" stroke-width="1"/>
<text x="133.4" y="283.8" transform="translate(133.4,283.8) scale(1,1.12) translate(-133.4,-283.8)" font-size="8.6" fill="#000" stroke="#000" stroke-width="0.1" text-anchor="start" font-weight="normal" font-style="italic" textLength="31.1" lengthAdjust="spacingAndGlyphs" >MEF2D</text>
<line x1="138.85" y1="321.2" x2="138.85" y2="328.6" stroke="#d21c34" stroke-width="1.1"/>
<line x1="138.85" y1="340.4" x2="138.85" y2="351.4" stroke="#d21c34" stroke-width="1.1"/>
<line x1="135.85" y1="321.2" x2="141.85" y2="321.2" stroke="#d21c34" stroke-width="1.1"/>
<line x1="135.85" y1="351.4" x2="141.85" y2="351.4" stroke="#d21c34" stroke-width="1.1"/>
<rect x="132.75" y="328.6" width="12.200000000000012" height="11.799999999999955" fill="none" stroke="#d21c34" stroke-width="1.1" />
<line x1="132.7" y1="336.2" x2="145.0" y2="336.2" stroke="#d21c34" stroke-width="1.1"/>
<line x1="158.5" y1="308.7" x2="158.5" y2="326.5" stroke="#2553c8" stroke-width="1.1"/>
<line x1="158.5" y1="335.2" x2="158.5" y2="344.0" stroke="#2553c8" stroke-width="1.1"/>
<line x1="155.5" y1="308.7" x2="161.5" y2="308.7" stroke="#2553c8" stroke-width="1.1"/>
<line x1="155.5" y1="344.0" x2="161.5" y2="344.0" stroke="#2553c8" stroke-width="1.1"/>
<rect x="152.35000000000002" y="326.5" width="12.299999999999978" height="8.699999999999989" fill="none" stroke="#2553c8" stroke-width="1.1" />
<line x1="152.3" y1="330.7" x2="164.7" y2="330.7" stroke="#2553c8" stroke-width="1.1"/>
<path d="M138.0,295.8 Q138.0,293.6 139.5,293.6 H158.4 Q159.9,293.6 159.9,295.8" stroke="#000" stroke-width="1" fill="none" />
<text x="148.95" y="293.0" transform="translate(148.95,293.0) scale(1,1.12) translate(-148.95,-293.0)" font-size="6.8" fill="#000" stroke="#000" stroke-width="0.1" text-anchor="middle" font-weight="normal" font-style="normal" >**</text>
<text x="138.7" y="375.0" transform="translate(138.7,375.0) scale(1,1.12) translate(-138.7,-375.0)" font-size="7.6" fill="#000" stroke="#000" stroke-width="0.1" text-anchor="middle" font-weight="normal" font-style="normal" >Low</text>
<text x="158.8" y="375.0" transform="translate(158.8,375.0) scale(1,1.12) translate(-158.8,-375.0)" font-size="7.6" fill="#000" stroke="#000" stroke-width="0.1" text-anchor="middle" font-weight="normal" font-style="normal" >High</text>
<line x1="211.0" y1="293.2" x2="211.0" y2="363.6" stroke="#000" stroke-width="1.3"/>
<line x1="210.5" y1="363.1" x2="257.3" y2="363.1" stroke="#000" stroke-width="1.3"/>
<line x1="208.0" y1="293.7" x2="211.0" y2="293.7" stroke="#000" stroke-width="1"/>
<text x="206.1" y="296.4" transform="translate(206.1,296.4) scale(1,1.12) translate(-206.1,-296.4)" font-size="7.6" fill="#000" stroke="#000" stroke-width="0.1" text-anchor="end" font-weight="normal" font-style="normal" >15</text>
<line x1="208.0" y1="317.0" x2="211.0" y2="317.0" stroke="#000" stroke-width="1"/>
<text x="206.1" y="319.7" transform="translate(206.1,319.7) scale(1,1.12) translate(-206.1,-319.7)" font-size="7.6" fill="#000" stroke="#000" stroke-width="0.1" text-anchor="end" font-weight="normal" font-style="normal" >10</text>
<line x1="208.0" y1="340.2" x2="211.0" y2="340.2" stroke="#000" stroke-width="1"/>
<text x="206.1" y="342.9" transform="translate(206.1,342.9) scale(1,1.12) translate(-206.1,-342.9)" font-size="7.6" fill="#000" stroke="#000" stroke-width="0.1" text-anchor="end" font-weight="normal" font-style="normal" >5</text>
<line x1="208.0" y1="363.1" x2="211.0" y2="363.1" stroke="#000" stroke-width="1"/>
<text x="206.1" y="365.8" transform="translate(206.1,365.8) scale(1,1.12) translate(-206.1,-365.8)" font-size="7.6" fill="#000" stroke="#000" stroke-width="0.1" text-anchor="end" font-weight="normal" font-style="normal" >0</text>
<line x1="223.7" y1="363.1" x2="223.7" y2="365.70000000000005" stroke="#000" stroke-width="1"/>
<line x1="243.8" y1="363.1" x2="243.8" y2="365.70000000000005" stroke="#000" stroke-width="1"/>
<text x="218.4" y="283.8" transform="translate(218.4,283.8) scale(1,1.12) translate(-218.4,-283.8)" font-size="8.6" fill="#000" stroke="#000" stroke-width="0.1" text-anchor="start" font-weight="normal" font-style="italic" textLength="31.1" lengthAdjust="spacingAndGlyphs" >CEBPE</text>
<line x1="223.85" y1="307.4" x2="223.85" y2="321.4" stroke="#d21c34" stroke-width="1.1"/>
<line x1="223.85" y1="331.8" x2="223.85" y2="353.6" stroke="#d21c34" stroke-width="1.1"/>
<line x1="220.85" y1="307.4" x2="226.85" y2="307.4" stroke="#d21c34" stroke-width="1.1"/>
<line x1="220.85" y1="353.6" x2="226.85" y2="353.6" stroke="#d21c34" stroke-width="1.1"/>
<rect x="217.75" y="321.4" width="12.200000000000012" height="10.400000000000034" fill="none" stroke="#d21c34" stroke-width="1.1" />
<line x1="217.7" y1="326.5" x2="230.0" y2="326.5" stroke="#d21c34" stroke-width="1.1"/>
<line x1="243.5" y1="319.3" x2="243.5" y2="329.7" stroke="#2553c8" stroke-width="1.1"/>
<line x1="243.5" y1="341.3" x2="243.5" y2="359.9" stroke="#2553c8" stroke-width="1.1"/>
<line x1="240.5" y1="319.3" x2="246.5" y2="319.3" stroke="#2553c8" stroke-width="1.1"/>
<line x1="240.5" y1="359.9" x2="246.5" y2="359.9" stroke="#2553c8" stroke-width="1.1"/>
<rect x="237.35000000000002" y="329.7" width="12.299999999999978" height="11.600000000000023" fill="none" stroke="#2553c8" stroke-width="1.1" />
<line x1="237.3" y1="335.6" x2="249.7" y2="335.6" stroke="#2553c8" stroke-width="1.1"/>
<path d="M223.0,295.8 Q223.0,293.6 224.5,293.6 H242.7 Q244.2,293.6 244.2,295.8" stroke="#000" stroke-width="1" fill="none" />
<text x="233.6" y="293.0" transform="translate(233.6,293.0) scale(1,1.12) translate(-233.6,-293.0)" font-size="6.8" fill="#000" stroke="#000" stroke-width="0.1" text-anchor="middle" font-weight="normal" font-style="normal" >***</text>
<text x="223.7" y="375.0" transform="translate(223.7,375.0) scale(1,1.12) translate(-223.7,-375.0)" font-size="7.6" fill="#000" stroke="#000" stroke-width="0.1" text-anchor="middle" font-weight="normal" font-style="normal" >Low</text>
<text x="243.8" y="375.0" transform="translate(243.8,375.0) scale(1,1.12) translate(-243.8,-375.0)" font-size="7.6" fill="#000" stroke="#000" stroke-width="0.1" text-anchor="middle" font-weight="normal" font-style="normal" >High</text>
<text transform="translate(23.0,328.1) rotate(-90)" font-size="8.4" text-anchor="middle" stroke="#000" stroke-width="0.12" textLength="34.2" lengthAdjust="spacingAndGlyphs">RSEM (log<tspan font-size="5.4" dy="1.8">2</tspan><tspan dy="-1.8">)</tspan></text>
<text x="315" y="284" transform="translate(315,284) scale(1,1.12) translate(-315,-284)" font-size="8.5" fill="#000" stroke="#000" stroke-width="0.1" text-anchor="start" font-weight="normal" font-style="normal" textLength="11.5" lengthAdjust="spacingAndGlyphs" >EV</text>
<text x="339.8" y="284" transform="translate(339.8,284) scale(1,1.12) translate(-339.8,-284)" font-size="8.5" fill="#000" stroke="#000" stroke-width="0.1" text-anchor="start" font-weight="normal" font-style="normal" textLength="30.4" lengthAdjust="spacingAndGlyphs" >MEF2D</text>
<line x1="304.8" y1="287.5" x2="336.2" y2="287.5" stroke="#333" stroke-width="1.4"/>
<line x1="339" y1="287.5" x2="370.8" y2="287.5" stroke="#333" stroke-width="1.4"/>
<text transform="translate(311.95,308.1) rotate(-45)" font-size="8.4" fill="#d41f36" stroke="#d41f36" stroke-width="0.1" text-anchor="end" font-style="normal">DMSO</text>
<text transform="translate(333.9,300.0) rotate(-45)" font-size="8.4" fill="#2d55c4" stroke="#2d55c4" stroke-width="0.1" text-anchor="end" font-style="normal">SGC0946</text>
<text transform="translate(342.35,308.1) rotate(-45)" font-size="8.4" fill="#d41f36" stroke="#d41f36" stroke-width="0.1" text-anchor="end" font-style="normal">DMSO</text>
<text transform="translate(365.0,300.0) rotate(-45)" font-size="8.4" fill="#2d55c4" stroke="#2d55c4" stroke-width="0.1" text-anchor="end" font-style="normal">SGC0946</text>
<rect x="282.5" y="328.9" width="69.9" height="12.500000000000034" fill="#dfe8e6" stroke="#141414" stroke-width="1.4" />
<rect x="284.1" y="333.29999999999995" width="13.699999999999989" height="4.2" rx="2.1" fill="#000" filter="url(#bl)"/>
<rect x="302" y="334.3" width="12.800000000000011" height="3.0" rx="1.5" fill="#000" filter="url(#bl)"/>
<rect x="318.3" y="331.85" width="14.300000000000011" height="5.9" rx="2.95" fill="#000" filter="url(#bl)"/>
<rect x="336.3" y="333.55" width="14.199999999999989" height="3.9" rx="1.95" fill="#000" filter="url(#bl)"/>
<rect x="282.5" y="345.0" width="69.9" height="15.1" fill="#dfe8e6" stroke="#141414" stroke-width="1.4" />
<rect x="285.1" y="351.2" width="11.699999999999989" height="3.6" rx="1.8" fill="#6e7878" filter="url(#bl2)"/>
<rect x="303.4" y="349.09999999999997" width="12.400000000000034" height="7.6" rx="3" fill="#000" filter="url(#bl)"/>
<rect x="338.5" y="351.5" width="5.800000000000011" height="3" rx="1.5" fill="#c4cccc" filter="url(#bl2)"/>
<rect x="282.5" y="363.0" width="69.9" height="10.499999999999977" fill="#dfe8e6" stroke="#141414" stroke-width="1.4" />
<rect x="284.1" y="366.59999999999997" width="13.699999999999989" height="3.6" rx="1.8" fill="#000" filter="url(#bl)"/>
<rect x="302" y="366.59999999999997" width="12.800000000000011" height="3.6" rx="1.8" fill="#000" filter="url(#bl)"/>
<rect x="318.3" y="366.59999999999997" width="14.300000000000011" height="3.6" rx="1.8" fill="#000" filter="url(#bl)"/>
<rect x="336.3" y="366.2" width="14.199999999999989" height="4.4" rx="2.2" fill="#000" filter="url(#bl)"/>
<text x="357" y="338.2" transform="translate(357,338.2) scale(1,1.12) translate(-357,-338.2)" font-size="7.6" fill="#000" stroke="#000" stroke-width="0.1" text-anchor="start" font-weight="normal" font-style="normal" textLength="26" lengthAdjust="spacingAndGlyphs" >MEF2D</text>
<text x="357" y="355.0" transform="translate(357,355.0) scale(1,1.12) translate(-357,-355.0)" font-size="7.6" fill="#000" stroke="#000" stroke-width="0.1" text-anchor="start" font-weight="normal" font-style="normal" textLength="25.4" lengthAdjust="spacingAndGlyphs" >CEBPE</text>
<text x="357" y="371.2" transform="translate(357,371.2) scale(1,1.12) translate(-357,-371.2)" font-size="7.6" fill="#000" stroke="#000" stroke-width="0.1" text-anchor="start" font-weight="normal" font-style="normal" textLength="27" lengthAdjust="spacingAndGlyphs" >Vinculin</text>
<text x="441.5" y="291.8" transform="translate(441.5,291.8) scale(1,1.12) translate(-441.5,-291.8)" font-size="8.6" fill="#000" stroke="#000" stroke-width="0.1" text-anchor="start" font-weight="normal" font-style="normal" textLength="11.1" lengthAdjust="spacingAndGlyphs" >EV</text>
<text x="475.7" y="291.8" transform="translate(475.7,291.8) scale(1,1.12) translate(-475.7,-291.8)" font-size="8.6" fill="#000" stroke="#000" stroke-width="0.1" text-anchor="start" font-weight="normal" font-style="normal" textLength="30.9" lengthAdjust="spacingAndGlyphs" >MEF2D</text>
<line x1="426.5" y1="295" x2="467" y2="295" stroke="#333" stroke-width="1.4"/>
<line x1="471" y1="295" x2="512" y2="295" stroke="#333" stroke-width="1.4"/>
<clipPath id="c0"><rect x="426.9" y="298.9" width="40.9" height="36.6"/></clipPath>
<rect x="426.7" y="298.7" width="41.30000000000001" height="37.0" fill="#d6eee3" stroke="#7a827e" stroke-width="1" />
<line x1="426.7" y1="298.2" x2="426.7" y2="336.2" stroke="#555" stroke-width="1"/>
<rect x="471.4" y="298.9" width="41.5" height="36.60000000000002" fill="#d8efe5" stroke="#7a827e" stroke-width="1" />
<line x1="471.4" y1="298.4" x2="471.4" y2="336.0" stroke="#555" stroke-width="1"/>
<rect x="426.9" y="339.8" width="41.0" height="37.099999999999966" fill="#e4f6ee" stroke="#7a827e" stroke-width="1" />
<line x1="426.9" y1="339.3" x2="426.9" y2="377.4" stroke="#555" stroke-width="1"/>
<rect x="471.5" y="340.3" width="41.39999999999998" height="36.599999999999966" fill="#dbf1e8" stroke="#7a827e" stroke-width="1" />
<line x1="471.5" y1="339.8" x2="471.5" y2="377.4" stroke="#555" stroke-width="1"/>
<ellipse cx="446.8" cy="310.7" rx="5.2" ry="6.2" fill="url(#cellg)" transform="rotate(-20 446.8 310.7)" />
<ellipse cx="439.6" cy="319.6" rx="4.7" ry="4.8" fill="url(#cellg)" />
<ellipse cx="452.4" cy="326.4" rx="4.6" ry="5.4" fill="url(#cellg)" />
<ellipse cx="456.9" cy="336.8" rx="4.3" ry="3.0" fill="url(#cellg)" clip-path="url(#c0)"/>
<ellipse cx="426.6" cy="302.2" rx="1.6" ry="3.2" fill="url(#cellg)" clip-path="url(#c0)"/>
<ellipse cx="485.0" cy="307.6" rx="4.8" ry="4.7" fill="url(#cellg)" />
<ellipse cx="492.6" cy="314.4" rx="4.7" ry="5.6" fill="url(#cellg)" />
<ellipse cx="486.4" cy="324.5" rx="4.9" ry="6.0" fill="url(#cellg)" />
<ellipse cx="496.5" cy="325.0" rx="5.0" ry="4.7" fill="url(#cellg)" />
<ellipse cx="509" cy="326" rx="2.5" ry="3.5" fill="#d6c8e6" opacity="0.8"/>
<ellipse cx="453.1" cy="358.8" rx="7.0" ry="6.8" fill="#bcb6e6" transform="rotate(-15 453.1 358.8)" />
<ellipse cx="453.5" cy="358.3" rx="5.1" ry="5.1" fill="url(#cellp)" />
<ellipse cx="443.8" cy="362.6" rx="5.7" ry="6.4" fill="#bdb4e4" />
<ellipse cx="443.8" cy="362.6" rx="4.0" ry="4.5" fill="url(#celld)" />
<ellipse cx="463.3" cy="358.3" rx="2.6" ry="1.3" fill="#dbb0d4" opacity="0.8"/>
<ellipse cx="493.2" cy="355.7" rx="3.9" ry="6.0" fill="url(#cellg)" transform="rotate(25 493.2 355.7)" />
<ellipse cx="497.9" cy="364.5" rx="4.3" ry="4.9" fill="url(#cellg)" />
<text x="472.2" y="371.4" transform="translate(472.2,371.4) scale(1,1.12) translate(-472.2,-371.4)" font-size="7.4" fill="#000" stroke="#000" stroke-width="0.1" text-anchor="start" font-weight="normal" font-style="normal" textLength="19.0" lengthAdjust="spacingAndGlyphs" >10 μm</text>
<line x1="477.5" y1="374.3" x2="485.0" y2="374.3" stroke="#000" stroke-width="1.5"/>
<line x1="422.6" y1="301.2" x2="422.6" y2="334.6" stroke="#000" stroke-width="1"/>
<line x1="422.6" y1="342.2" x2="422.6" y2="376.2" stroke="#000" stroke-width="1"/>
<text transform="translate(421.0,317.7) rotate(-90)" font-size="8.2" fill="#d41f36" stroke="#d41f36" stroke-width="0.1" text-anchor="middle" font-style="normal" textLength="23.6" lengthAdjust="spacingAndGlyphs">DMSO</text>
<text transform="translate(421.0,358.8) rotate(-90)" font-size="8.2" fill="#2d55c4" stroke="#2d55c4" stroke-width="0.1" text-anchor="middle" font-style="normal" textLength="36.3" lengthAdjust="spacingAndGlyphs">SGC0946</text>
<text x="58.8" y="402.6" transform="translate(58.8,402.6) scale(1,1.12) translate(-58.8,-402.6)" font-size="8.6" fill="#000" stroke="#000" stroke-width="0.1" text-anchor="start" font-weight="normal" font-style="normal" textLength="10.4" lengthAdjust="spacingAndGlyphs" >EV</text>
<text x="96.4" y="402.6" transform="translate(96.4,402.6) scale(1,1.12) translate(-96.4,-402.6)" font-size="8.6" fill="#000" stroke="#000" stroke-width="0.1" text-anchor="start" font-weight="normal" font-style="normal" textLength="30.6" lengthAdjust="spacingAndGlyphs" >MEF2D</text>
<line x1="42.3" y1="405.5" x2="86.2" y2="405.5" stroke="#333" stroke-width="1.3"/>
<line x1="90" y1="405.5" x2="133.6" y2="405.5" stroke="#333" stroke-width="1.3"/>
<clipPath id="pc0"><rect x="42.0" y="408.3" width="45.2" height="44.099999999999966"/></clipPath>
<g clip-path="url(#pc0)">
<path d="M42,442.5 C44,441 46,441 48,439.5 C51,436.5 54.5,432.3 58,432.3 C60.5,432.3 61.3,434.5 61,437.5 C60.7,441.5 60,444.5 57.5,446.5 C54.5,448.2 50.5,447.8 47.5,446.3 C45.5,445.4 44,445.5 42,446.5 Z" fill="#000"/>
<path d="M42,442.5 C44,441 46,441 48,439.5 C51,436.5 54.5,432.3 58,432.3 C60.5,432.3 61.3,434.5 61,437.5 C60.7,441.5 60,444.5 57.5,446.5 C54.5,448.2 50.5,447.8 47.5,446.3 C45.5,445.4 44,445.5 42,446.5 Z" fill="none" stroke="#444" stroke-width="0.4" transform="translate(0.0,0)" opacity="0.0"/>
<circle cx="55.8" cy="441.6" r="0.6" fill="#fff"/>
</g>
<rect x="43.0" y="409.3" width="43.2" height="42.099999999999966" fill="none" stroke="#111" stroke-width="1.8" />
<path d="M61.5,450.9 V415.3 H81.8 V450.9" stroke="#333" stroke-width="0.9" fill="none" />
<line x1="81.8" y1="418.3" x2="81.8" y2="450.9" stroke="#888" stroke-width="1.2"/>
<line x1="40.4" y1="416.0285714285714" x2="42.0" y2="416.0285714285714" stroke="#222" stroke-width="0.8"/>
<line x1="40.4" y1="421.75714285714287" x2="42.0" y2="421.75714285714287" stroke="#222" stroke-width="0.8"/>
<line x1="40.4" y1="427.48571428571427" x2="42.0" y2="427.48571428571427" stroke="#222" stroke-width="0.8"/>
<line x1="40.4" y1="433.2142857142857" x2="42.0" y2="433.2142857142857" stroke="#222" stroke-width="0.8"/>
<line x1="40.4" y1="438.9428571428571" x2="42.0" y2="438.9428571428571" stroke="#222" stroke-width="0.8"/>
<line x1="40.4" y1="444.6714285714286" x2="42.0" y2="444.6714285714286" stroke="#222" stroke-width="0.8"/>
<line x1="45.766666666666666" y1="452.4" x2="45.766666666666666" y2="453.9" stroke="#222" stroke-width="0.7"/>
<line x1="49.53333333333333" y1="452.4" x2="49.53333333333333" y2="453.9" stroke="#222" stroke-width="0.7"/>
<line x1="53.300000000000004" y1="452.4" x2="53.300000000000004" y2="453.9" stroke="#222" stroke-width="0.7"/>
<line x1="57.06666666666667" y1="452.4" x2="57.06666666666667" y2="453.9" stroke="#222" stroke-width="0.7"/>
<line x1="60.83333333333333" y1="452.4" x2="60.83333333333333" y2="453.9" stroke="#222" stroke-width="0.7"/>
<line x1="64.60000000000001" y1="452.4" x2="64.60000000000001" y2="453.9" stroke="#222" stroke-width="0.7"/>
<line x1="68.36666666666667" y1="452.4" x2="68.36666666666667" y2="453.9" stroke="#222" stroke-width="0.7"/>
<line x1="72.13333333333334" y1="452.4" x2="72.13333333333334" y2="453.9" stroke="#222" stroke-width="0.7"/>
<line x1="75.9" y1="452.4" x2="75.9" y2="453.9" stroke="#222" stroke-width="0.7"/>
<line x1="79.66666666666666" y1="452.4" x2="79.66666666666666" y2="453.9" stroke="#222" stroke-width="0.7"/>
<line x1="83.43333333333334" y1="452.4" x2="83.43333333333334" y2="453.9" stroke="#222" stroke-width="0.7"/>
<clipPath id="pc1"><rect x="89.5" y="408.3" width="44.69999999999999" height="44.099999999999966"/></clipPath>
<g clip-path="url(#pc1)">
<path d="M89.8,440.7 L93.2,442.5 C96,439.5 100.5,436 105.5,435.6 C108.2,435.6 109,437.5 108.7,440 C108.3,443.5 106.5,446.5 102.5,447.4 C99,448 96,447 93.5,445.2 L89.8,445.5 Z" fill="#000"/>
<path d="M89.8,440.7 L93.2,442.5 C96,439.5 100.5,436 105.5,435.6 C108.2,435.6 109,437.5 108.7,440 C108.3,443.5 106.5,446.5 102.5,447.4 C99,448 96,447 93.5,445.2 L89.8,445.5 Z" fill="none" stroke="#444" stroke-width="0.4" transform="translate(0.0,0)" opacity="0.0"/>
<circle cx="102.8" cy="441.7" r="0.6" fill="#fff"/>
</g>
<rect x="90.5" y="409.3" width="42.69999999999999" height="42.099999999999966" fill="none" stroke="#111" stroke-width="1.8" />
<path d="M108.4,450.9 V415.4 H128.8 V450.9" stroke="#333" stroke-width="0.9" fill="none" />
<line x1="128.8" y1="418.4" x2="128.8" y2="450.9" stroke="#888" stroke-width="1.2"/>
<line x1="87.9" y1="416.0285714285714" x2="89.5" y2="416.0285714285714" stroke="#222" stroke-width="0.8"/>
<line x1="87.9" y1="421.75714285714287" x2="89.5" y2="421.75714285714287" stroke="#222" stroke-width="0.8"/>
<line x1="87.9" y1="427.48571428571427" x2="89.5" y2="427.48571428571427" stroke="#222" stroke-width="0.8"/>
<line x1="87.9" y1="433.2142857142857" x2="89.5" y2="433.2142857142857" stroke="#222" stroke-width="0.8"/>
<line x1="87.9" y1="438.9428571428571" x2="89.5" y2="438.9428571428571" stroke="#222" stroke-width="0.8"/>
<line x1="87.9" y1="444.6714285714286" x2="89.5" y2="444.6714285714286" stroke="#222" stroke-width="0.8"/>
<line x1="93.225" y1="452.4" x2="93.225" y2="453.9" stroke="#222" stroke-width="0.7"/>
<line x1="96.95" y1="452.4" x2="96.95" y2="453.9" stroke="#222" stroke-width="0.7"/>
<line x1="100.675" y1="452.4" x2="100.675" y2="453.9" stroke="#222" stroke-width="0.7"/>
<line x1="104.39999999999999" y1="452.4" x2="104.39999999999999" y2="453.9" stroke="#222" stroke-width="0.7"/>
<line x1="108.125" y1="452.4" x2="108.125" y2="453.9" stroke="#222" stroke-width="0.7"/>
<line x1="111.85" y1="452.4" x2="111.85" y2="453.9" stroke="#222" stroke-width="0.7"/>
<line x1="115.57499999999999" y1="452.4" x2="115.57499999999999" y2="453.9" stroke="#222" stroke-width="0.7"/>
<line x1="119.3" y1="452.4" x2="119.3" y2="453.9" stroke="#222" stroke-width="0.7"/>
<line x1="123.02499999999999" y1="452.4" x2="123.02499999999999" y2="453.9" stroke="#222" stroke-width="0.7"/>
<line x1="126.75" y1="452.4" x2="126.75" y2="453.9" stroke="#222" stroke-width="0.7"/>
<line x1="130.475" y1="452.4" x2="130.475" y2="453.9" stroke="#222" stroke-width="0.7"/>
<clipPath id="pc2"><rect x="42.0" y="457.2" width="45.0" height="44.19999999999999"/></clipPath>
<g clip-path="url(#pc2)">
<path d="M47.2,490.7 C49,487 53,483 57,481.3 C60,480 62.5,481 64,483.5 C65.8,486.5 65.8,490.5 64,493 C62,495.8 58.5,496.6 55,496.4 C51,496 48,494 47.2,490.7 Z M42,487.8 C43.5,488 44.6,489.5 44.6,491 C44.6,492.6 43.5,494 42,494.2 Z" fill="#f0204c"/>
<circle cx="57.3" cy="489.3" r="0.6" fill="#fff"/>
</g>
<rect x="43.0" y="458.2" width="43.0" height="42.19999999999999" fill="none" stroke="#111" stroke-width="1.8" />
<path d="M60.8,499.9 V463.4 H81.6 V499.9" stroke="#333" stroke-width="0.9" fill="none" />
<line x1="81.6" y1="466.4" x2="81.6" y2="499.9" stroke="#888" stroke-width="1.2"/>
<line x1="40.4" y1="464.9428571428571" x2="42.0" y2="464.9428571428571" stroke="#222" stroke-width="0.8"/>
<line x1="40.4" y1="470.68571428571425" x2="42.0" y2="470.68571428571425" stroke="#222" stroke-width="0.8"/>
<line x1="40.4" y1="476.4285714285714" x2="42.0" y2="476.4285714285714" stroke="#222" stroke-width="0.8"/>
<line x1="40.4" y1="482.1714285714286" x2="42.0" y2="482.1714285714286" stroke="#222" stroke-width="0.8"/>
<line x1="40.4" y1="487.9142857142857" x2="42.0" y2="487.9142857142857" stroke="#222" stroke-width="0.8"/>
<line x1="40.4" y1="493.65714285714284" x2="42.0" y2="493.65714285714284" stroke="#222" stroke-width="0.8"/>
<line x1="45.75" y1="501.4" x2="45.75" y2="502.9" stroke="#222" stroke-width="0.7"/>
<line x1="49.5" y1="501.4" x2="49.5" y2="502.9" stroke="#222" stroke-width="0.7"/>
<line x1="53.25" y1="501.4" x2="53.25" y2="502.9" stroke="#222" stroke-width="0.7"/>
<line x1="57.0" y1="501.4" x2="57.0" y2="502.9" stroke="#222" stroke-width="0.7"/>
<line x1="60.75" y1="501.4" x2="60.75" y2="502.9" stroke="#222" stroke-width="0.7"/>
<line x1="64.5" y1="501.4" x2="64.5" y2="502.9" stroke="#222" stroke-width="0.7"/>
<line x1="68.25" y1="501.4" x2="68.25" y2="502.9" stroke="#222" stroke-width="0.7"/>
<line x1="72.0" y1="501.4" x2="72.0" y2="502.9" stroke="#222" stroke-width="0.7"/>
<line x1="75.75" y1="501.4" x2="75.75" y2="502.9" stroke="#222" stroke-width="0.7"/>
<line x1="79.5" y1="501.4" x2="79.5" y2="502.9" stroke="#222" stroke-width="0.7"/>
<line x1="83.25" y1="501.4" x2="83.25" y2="502.9" stroke="#222" stroke-width="0.7"/>
<clipPath id="pc3"><rect x="89.5" y="457.2" width="45.0" height="44.19999999999999"/></clipPath>
<g clip-path="url(#pc3)">
<path d="M90.8,488.8 L93.7,491 C96,488 100,485.5 104,484.5 C107,483.8 108.6,486 108.4,490 C108,494 105,496.8 101,496.9 C98,497 95.5,495.5 93.7,494 L90.8,496 Z" fill="#f0204c"/>
<circle cx="101.6" cy="490.8" r="0.6" fill="#fff"/>
</g>
<rect x="90.5" y="458.2" width="43.0" height="42.19999999999999" fill="none" stroke="#111" stroke-width="1.8" />
<path d="M108.4,499.9 V463.3 H128.5 V499.9" stroke="#333" stroke-width="0.9" fill="none" />
<line x1="128.5" y1="466.3" x2="128.5" y2="499.9" stroke="#888" stroke-width="1.2"/>
<line x1="87.9" y1="464.9428571428571" x2="89.5" y2="464.9428571428571" stroke="#222" stroke-width="0.8"/>
<line x1="87.9" y1="470.68571428571425" x2="89.5" y2="470.68571428571425" stroke="#222" stroke-width="0.8"/>
<line x1="87.9" y1="476.4285714285714" x2="89.5" y2="476.4285714285714" stroke="#222" stroke-width="0.8"/>
<line x1="87.9" y1="482.1714285714286" x2="89.5" y2="482.1714285714286" stroke="#222" stroke-width="0.8"/>
<line x1="87.9" y1="487.9142857142857" x2="89.5" y2="487.9142857142857" stroke="#222" stroke-width="0.8"/>
<line x1="87.9" y1="493.65714285714284" x2="89.5" y2="493.65714285714284" stroke="#222" stroke-width="0.8"/>
<line x1="93.25" y1="501.4" x2="93.25" y2="502.9" stroke="#222" stroke-width="0.7"/>
<line x1="97.0" y1="501.4" x2="97.0" y2="502.9" stroke="#222" stroke-width="0.7"/>
<line x1="100.75" y1="501.4" x2="100.75" y2="502.9" stroke="#222" stroke-width="0.7"/>
<line x1="104.5" y1="501.4" x2="104.5" y2="502.9" stroke="#222" stroke-width="0.7"/>
<line x1="108.25" y1="501.4" x2="108.25" y2="502.9" stroke="#222" stroke-width="0.7"/>
<line x1="112.0" y1="501.4" x2="112.0" y2="502.9" stroke="#222" stroke-width="0.7"/>
<line x1="115.75" y1="501.4" x2="115.75" y2="502.9" stroke="#222" stroke-width="0.7"/>
<line x1="119.5" y1="501.4" x2="119.5" y2="502.9" stroke="#222" stroke-width="0.7"/>
<line x1="123.25" y1="501.4" x2="123.25" y2="502.9" stroke="#222" stroke-width="0.7"/>
<line x1="127.0" y1="501.4" x2="127.0" y2="502.9" stroke="#222" stroke-width="0.7"/>
<line x1="130.75" y1="501.4" x2="130.75" y2="502.9" stroke="#222" stroke-width="0.7"/>
<text x="63.7" y="423.5" transform="translate(63.7,423.5) scale(1,1.12) translate(-63.7,-423.5)" font-size="7.4" fill="#111" stroke="#111" stroke-width="0.1" text-anchor="start" font-weight="normal" font-style="normal" textLength="15.2" lengthAdjust="spacingAndGlyphs" >0.83</text>
<text x="111.3" y="423.5" transform="translate(111.3,423.5) scale(1,1.12) translate(-111.3,-423.5)" font-size="7.4" fill="#111" stroke="#111" stroke-width="0.1" text-anchor="start" font-weight="normal" font-style="normal" textLength="15.0" lengthAdjust="spacingAndGlyphs" >1.29</text>
<text x="64.0" y="472.0" transform="translate(64.0,472.0) scale(1,1.12) translate(-64.0,-472.0)" font-size="7.4" fill="#2a52c4" stroke="#2a52c4" stroke-width="0.1" text-anchor="start" font-weight="normal" font-style="normal" textLength="14.7" lengthAdjust="spacingAndGlyphs" >13.4</text>
<text x="111.1" y="471.8" transform="translate(111.1,471.8) scale(1,1.12) translate(-111.1,-471.8)" font-size="7.4" fill="#2a52c4" stroke="#2a52c4" stroke-width="0.1" text-anchor="start" font-weight="normal" font-style="normal" textLength="15.3" lengthAdjust="spacingAndGlyphs" >0.63</text>
<line x1="37.6" y1="410.2" x2="37.6" y2="450.7" stroke="#000" stroke-width="1"/>
<line x1="37.6" y1="459.8" x2="37.6" y2="499.8" stroke="#000" stroke-width="1"/>
<text transform="translate(34.6,430.35) rotate(-90)" font-size="7.8" fill="#d41f36" stroke="#d41f36" stroke-width="0.1" text-anchor="middle" font-style="normal" textLength="23.1" lengthAdjust="spacingAndGlyphs">DMSO</text>
<text transform="translate(34.8,479.3) rotate(-90)" font-size="7.8" fill="#2d55c4" stroke="#2d55c4" stroke-width="0.1" text-anchor="middle" font-style="normal" textLength="36.0" lengthAdjust="spacingAndGlyphs">SGC0946</text>
<text transform="translate(22.1,455.4) rotate(-90)" font-size="9.6" text-anchor="middle" stroke="#000" stroke-width="0.12" textLength="17.6" lengthAdjust="spacingAndGlyphs">SSC-A</text>
<text x="71.0" y="511.6" transform="translate(71.0,511.6) scale(1,1.12) translate(-71.0,-511.6)" font-size="7.8" fill="#000" stroke="#000" stroke-width="0.1" text-anchor="start" font-weight="normal" font-style="normal" textLength="34.1" lengthAdjust="spacingAndGlyphs" >CD11b (log)</text>
<line x1="209.8" y1="423.0" x2="209.8" y2="497.8" stroke="#000" stroke-width="1.3"/>
<line x1="209.3" y1="497.3" x2="275.8" y2="497.3" stroke="#000" stroke-width="1.3"/>
<line x1="206.8" y1="423.5" x2="209.8" y2="423.5" stroke="#000" stroke-width="1"/>
<text x="205.0" y="426.5" transform="translate(205.0,426.5) scale(1,1.12) translate(-205.0,-426.5)" font-size="8.4" fill="#000" stroke="#000" stroke-width="0.1" text-anchor="end" font-weight="normal" font-style="normal" >15</text>
<line x1="206.8" y1="448.0" x2="209.8" y2="448.0" stroke="#000" stroke-width="1"/>
<text x="205.0" y="451.0" transform="translate(205.0,451.0) scale(1,1.12) translate(-205.0,-451.0)" font-size="8.4" fill="#000" stroke="#000" stroke-width="0.1" text-anchor="end" font-weight="normal" font-style="normal" >10</text>
<line x1="206.8" y1="473.1" x2="209.8" y2="473.1" stroke="#000" stroke-width="1"/>
<text x="205.0" y="476.1" transform="translate(205.0,476.1) scale(1,1.12) translate(-205.0,-476.1)" font-size="8.4" fill="#000" stroke="#000" stroke-width="0.1" text-anchor="end" font-weight="normal" font-style="normal" >5</text>
<line x1="206.8" y1="497.3" x2="209.8" y2="497.3" stroke="#000" stroke-width="1"/>
<text x="205.0" y="500.3" transform="translate(205.0,500.3) scale(1,1.12) translate(-205.0,-500.3)" font-size="8.4" fill="#000" stroke="#000" stroke-width="0.1" text-anchor="end" font-weight="normal" font-style="normal" >0</text>
<line x1="225.5" y1="497.3" x2="225.5" y2="500.0" stroke="#000" stroke-width="1"/>
<line x1="260.2" y1="497.3" x2="260.2" y2="500.0" stroke="#000" stroke-width="1"/>
<rect x="215.6" y="491.8" width="7.3" height="5.5" fill="#ea6cb4" stroke="none" stroke-width="0" />
<rect x="228.0" y="431.5" width="7.8" height="65.8" fill="#7fbcd9" stroke="none" stroke-width="0" />
<rect x="250.2" y="491.0" width="7.7" height="6.3" fill="#ea6cb4" stroke="none" stroke-width="0" />
<rect x="262.7" y="494.5" width="8.0" height="2.8" fill="#9ec6e0" stroke="none" stroke-width="0" />
<circle cx="216.8" cy="492.5" r="1.2" fill="#d0021b"/>
<circle cx="219.0" cy="490.2" r="1.2" fill="#d0021b"/>
<circle cx="221.3" cy="490.0" r="1.2" fill="#d0021b"/>
<line x1="219" y1="489.6" x2="219" y2="493" stroke="#d0021b" stroke-width="0.8"/>
<circle cx="251.6" cy="490.3" r="1.2" fill="#d0021b"/>
<circle cx="254.0" cy="490.0" r="1.2" fill="#d0021b"/>
<circle cx="256.4" cy="490.3" r="1.2" fill="#d0021b"/>
<circle cx="229.5" cy="431.4" r="1.25" fill="#0b3fb8"/>
<circle cx="232.0" cy="432.0" r="1.25" fill="#0b3fb8"/>
<circle cx="234.4" cy="431.2" r="1.25" fill="#0b3fb8"/>
<line x1="231.9" y1="431" x2="231.9" y2="436.5" stroke="#0b3fb8" stroke-width="1"/>
<line x1="230.4" y1="436.5" x2="233.4" y2="436.5" stroke="#0b3fb8" stroke-width="1"/>
<circle cx="264.0" cy="493.8" r="1.2" fill="none" stroke="#0b3fb8" stroke-width="0.9"/>
<circle cx="266.6" cy="494.8" r="1.2" fill="none" stroke="#0b3fb8" stroke-width="0.9"/>
<circle cx="269.2" cy="494.6" r="1.2" fill="none" stroke="#0b3fb8" stroke-width="0.9"/>
<line x1="263" y1="495.9" x2="270.5" y2="495.9" stroke="#0b3fb8" stroke-width="1"/>
<path d="M219,474.6 V413.3 H266.5 V474.6" stroke="#000" stroke-width="1" fill="none" />
<line x1="231.9" y1="413.3" x2="231.9" y2="423.2" stroke="#333" stroke-width="2.2"/>
<text x="225.4" y="413.2" transform="translate(225.4,413.2) scale(1,1.12) translate(-225.4,-413.2)" font-size="6.8" fill="#000" stroke="#000" stroke-width="0.1" text-anchor="middle" font-weight="normal" font-style="normal" >***</text>
<text x="249.7" y="413.2" transform="translate(249.7,413.2) scale(1,1.12) translate(-249.7,-413.2)" font-size="6.8" fill="#000" stroke="#000" stroke-width="0.1" text-anchor="middle" font-weight="normal" font-style="normal" >***</text>
<circle cx="276.6" cy="439.5" r="1.5" fill="#d0021b"/>
<circle cx="276.6" cy="452.7" r="1.5" fill="#0b3fb8"/>
<text x="281.8" y="441.9" transform="translate(281.8,441.9) scale(1,1.12) translate(-281.8,-441.9)" font-size="7.4" fill="#d41f36" stroke="#d41f36" stroke-width="0.1" text-anchor="start" font-weight="normal" font-style="normal" textLength="22.3" lengthAdjust="spacingAndGlyphs" >DMSO</text>
<text x="281.8" y="455.3" transform="translate(281.8,455.3) scale(1,1.12) translate(-281.8,-455.3)" font-size="7.4" fill="#2d55c4" stroke="#2d55c4" stroke-width="0.1" text-anchor="start" font-weight="normal" font-style="normal" textLength="33.7" lengthAdjust="spacingAndGlyphs" >SGC0946</text>
<text x="225.3" y="509.2" transform="translate(225.3,509.2) scale(1,1.12) translate(-225.3,-509.2)" font-size="7.4" fill="#000" stroke="#000" stroke-width="0.1" text-anchor="middle" font-weight="normal" font-style="normal" >EV</text>
<text x="247.7" y="509.2" transform="translate(247.7,509.2) scale(1,1.12) translate(-247.7,-509.2)" font-size="7.4" fill="#000" stroke="#000" stroke-width="0.1" text-anchor="start" font-weight="normal" font-style="normal" textLength="25.6" lengthAdjust="spacingAndGlyphs" >MEF2D</text>
<text transform="translate(190.0,460.2) rotate(-90)" font-size="9.0" text-anchor="middle" stroke="#000" stroke-width="0.12" textLength="45.5" lengthAdjust="spacingAndGlyphs">Percentage (%)</text>
<line x1="400.7" y1="401.8" x2="400.7" y2="482.6" stroke="#000" stroke-width="1.4"/>
<line x1="400.2" y1="482.3" x2="500.2" y2="482.3" stroke="#000" stroke-width="1.4"/>
<line x1="397.7" y1="402.3" x2="400.7" y2="402.3" stroke="#000" stroke-width="1"/>
<text x="394.7" y="405.1" transform="translate(394.7,405.1) scale(1,1.12) translate(-394.7,-405.1)" font-size="7.8" fill="#000" stroke="#000" stroke-width="0.1" text-anchor="end" font-weight="normal" font-style="normal" >150</text>
<line x1="397.7" y1="429.1" x2="400.7" y2="429.1" stroke="#000" stroke-width="1"/>
<text x="394.7" y="431.90000000000003" transform="translate(394.7,431.90000000000003) scale(1,1.12) translate(-394.7,-431.90000000000003)" font-size="7.8" fill="#000" stroke="#000" stroke-width="0.1" text-anchor="end" font-weight="normal" font-style="normal" >100</text>
<line x1="397.7" y1="455.9" x2="400.7" y2="455.9" stroke="#000" stroke-width="1"/>
<text x="394.7" y="458.7" transform="translate(394.7,458.7) scale(1,1.12) translate(-394.7,-458.7)" font-size="7.8" fill="#000" stroke="#000" stroke-width="0.1" text-anchor="end" font-weight="normal" font-style="normal" >50</text>
<line x1="397.7" y1="482.1" x2="400.7" y2="482.1" stroke="#000" stroke-width="1"/>
<text x="394.7" y="484.90000000000003" transform="translate(394.7,484.90000000000003) scale(1,1.12) translate(-394.7,-484.90000000000003)" font-size="7.8" fill="#000" stroke="#000" stroke-width="0.1" text-anchor="end" font-weight="normal" font-style="normal" >0</text>
<line x1="415.7" y1="482.1" x2="415.7" y2="485.3" stroke="#000" stroke-width="1"/>
<line x1="438.9" y1="482.1" x2="438.9" y2="485.3" stroke="#000" stroke-width="1"/>
<line x1="461.7" y1="482.1" x2="461.7" y2="485.3" stroke="#000" stroke-width="1"/>
<line x1="484.8" y1="482.1" x2="484.8" y2="485.3" stroke="#000" stroke-width="1"/>
<path d="M415.7,429.1 L438.9,466.5 L461.7,471.2 L484.8,475.4" stroke="#cc0c1e" stroke-width="1.6" fill="none" stroke-linejoin="round"/>
<path d="M415.7,429.1 L438.9,444.6 L461.7,454.6 L484.8,459.8" stroke="#1236b4" stroke-width="1.6" fill="none" stroke-linejoin="round"/>
<rect x="414.2" y="427.8" width="3" height="2.6" fill="#cc0c1e" stroke="none" stroke-width="0" />
<rect x="437.4" y="465.2" width="3" height="2.6" fill="#cc0c1e" stroke="none" stroke-width="0" />
<rect x="460.2" y="469.9" width="3" height="2.6" fill="#cc0c1e" stroke="none" stroke-width="0" />
<rect x="483.3" y="474.09999999999997" width="3" height="2.6" fill="#cc0c1e" stroke="none" stroke-width="0" />
<rect x="414.0" y="427.6" width="3.4" height="3.0" fill="#1236b4" stroke="none" stroke-width="0" />
<rect x="437.2" y="443.1" width="3.4" height="3.0" fill="#1236b4" stroke="none" stroke-width="0" />
<line x1="438.9" y1="441.6" x2="438.9" y2="447.6" stroke="#1236b4" stroke-width="1.4"/>
<line x1="437.2" y1="442.1" x2="440.59999999999997" y2="442.1" stroke="#1236b4" stroke-width="1.2"/>
<line x1="437.2" y1="447.1" x2="440.59999999999997" y2="447.1" stroke="#1236b4" stroke-width="1.2"/>
<rect x="460.0" y="453.1" width="3.4" height="3.0" fill="#1236b4" stroke="none" stroke-width="0" />
<line x1="461.7" y1="453.1" x2="461.7" y2="456.1" stroke="#1236b4" stroke-width="1.4"/>
<line x1="460.0" y1="453.6" x2="463.4" y2="453.6" stroke="#1236b4" stroke-width="1.2"/>
<line x1="460.0" y1="455.6" x2="463.4" y2="455.6" stroke="#1236b4" stroke-width="1.2"/>
<rect x="483.1" y="458.3" width="3.4" height="3.0" fill="#1236b4" stroke="none" stroke-width="0" />
<line x1="484.8" y1="456.3" x2="484.8" y2="463.3" stroke="#1236b4" stroke-width="1.4"/>
<line x1="483.1" y1="456.8" x2="486.5" y2="456.8" stroke="#1236b4" stroke-width="1.2"/>
<line x1="483.1" y1="462.8" x2="486.5" y2="462.8" stroke="#1236b4" stroke-width="1.2"/>
<text x="439" y="442.1" transform="translate(439,442.1) scale(1,1.12) translate(-439,-442.1)" font-size="6.8" fill="#000" stroke="#000" stroke-width="0.1" text-anchor="middle" font-weight="normal" font-style="normal" >***</text>
<text x="462" y="453.1" transform="translate(462,453.1) scale(1,1.12) translate(-462,-453.1)" font-size="6.8" fill="#000" stroke="#000" stroke-width="0.1" text-anchor="middle" font-weight="normal" font-style="normal" >***</text>
<text x="485" y="457.20000000000005" transform="translate(485,457.20000000000005) scale(1,1.12) translate(-485,-457.20000000000005)" font-size="6.8" fill="#000" stroke="#000" stroke-width="0.1" text-anchor="middle" font-weight="normal" font-style="normal" >***</text>
<line x1="451.1" y1="403.2" x2="460.3" y2="403.2" stroke="#cc0c1e" stroke-width="1.9"/>
<rect x="454.2" y="401.7" width="3.0" height="3.0" fill="#cc0c1e" stroke="none" stroke-width="0" />
<line x1="451.1" y1="414.8" x2="460.3" y2="414.8" stroke="#1236b4" stroke-width="1.9"/>
<rect x="454.0" y="413.2" width="3.3" height="3.2" fill="#1236b4" stroke="none" stroke-width="0" />
<text x="463.7" y="405.8" transform="translate(463.7,405.8) scale(1,1.12) translate(-463.7,-405.8)" font-size="7.4" fill="#000" stroke="#000" stroke-width="0.1" text-anchor="start" font-weight="normal" font-style="normal" textLength="8.7" lengthAdjust="spacingAndGlyphs" >EV</text>
<text x="463.7" y="417.4" transform="translate(463.7,417.4) scale(1,1.12) translate(-463.7,-417.4)" font-size="7.4" fill="#000" stroke="#000" stroke-width="0.1" text-anchor="start" font-weight="normal" font-style="normal" textLength="23.4" lengthAdjust="spacingAndGlyphs" >MEF2D</text>
<text x="405.0" y="494.2" transform="translate(405.0,494.2) scale(1,1.12) translate(-405.0,-494.2)" font-size="7.4" fill="#000" stroke="#000" stroke-width="0.1" text-anchor="start" font-weight="normal" font-style="normal" textLength="23.3" lengthAdjust="spacingAndGlyphs" >DMSO</text>
<text x="434.7" y="494.2" transform="translate(434.7,494.2) scale(1,1.12) translate(-434.7,-494.2)" font-size="7.4" fill="#000" stroke="#000" stroke-width="0.1" text-anchor="start" font-weight="normal" font-style="normal" textLength="8.7" lengthAdjust="spacingAndGlyphs" >50</text>
<text x="456.0" y="494.2" transform="translate(456.0,494.2) scale(1,1.12) translate(-456.0,-494.2)" font-size="7.4" fill="#000" stroke="#000" stroke-width="0.1" text-anchor="start" font-weight="normal" font-style="normal" textLength="12.5" lengthAdjust="spacingAndGlyphs" >100</text>
<text x="478.0" y="494.2" transform="translate(478.0,494.2) scale(1,1.12) translate(-478.0,-494.2)" font-size="7.4" fill="#000" stroke="#000" stroke-width="0.1" text-anchor="start" font-weight="normal" font-style="normal" textLength="13.5" lengthAdjust="spacingAndGlyphs" >500</text>
<line x1="434.7" y1="500.5" x2="491.5" y2="500.5" stroke="#000" stroke-width="1"/>
<text x="436.7" y="510.8" transform="translate(436.7,510.8) scale(1,1.12) translate(-436.7,-510.8)" font-size="7.4" fill="#2d55c4" stroke="#2d55c4" stroke-width="0.1" text-anchor="start" font-weight="normal" font-style="normal" textLength="52.9" lengthAdjust="spacingAndGlyphs" >SGC0946 (nM)</text>
<text transform="translate(374.9,442.3) rotate(-90)" font-size="8.3" text-anchor="middle" stroke="#000" stroke-width="0.12" textLength="29.1" lengthAdjust="spacingAndGlyphs">% survival</text>
</g>
<rect x="0.5" y="0.5" width="519" height="519" fill="none" stroke="#000" stroke-width="1"/>
<rect x="1.5" y="1.5" width="517" height="517" fill="none" stroke="#000" stroke-width="1" opacity="0.5"/>
</svg>
</body></html>
